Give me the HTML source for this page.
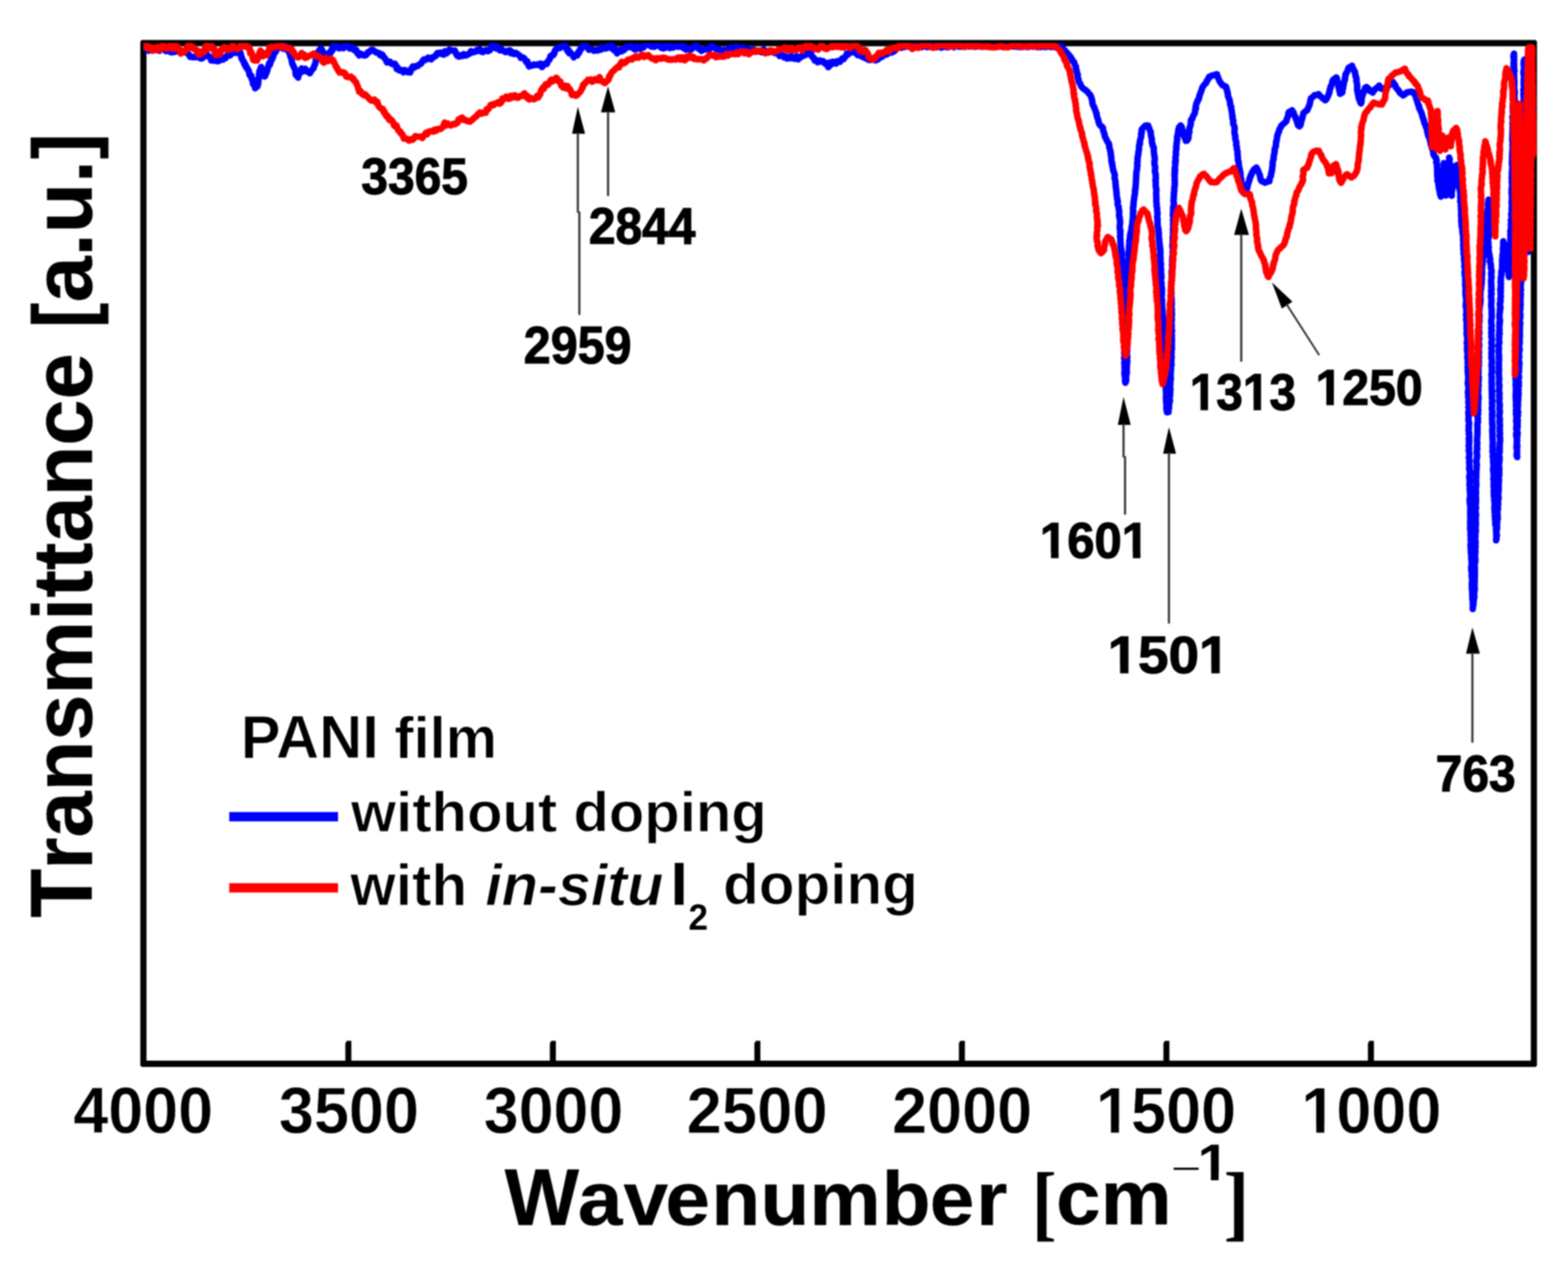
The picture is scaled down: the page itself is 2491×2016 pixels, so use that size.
<!DOCTYPE html>
<html lang="en">
<head>
<meta charset="utf-8">
<title>FTIR transmittance spectra of PANI film</title>
<style>
html,body{margin:0;padding:0;background:#fff;}
body{width:2491px;height:2016px;overflow:hidden;}
svg{display:block;filter:blur(1px);}
</style>
</head>
<body>
<svg width="2491" height="2016" viewBox="0 0 2491 2016" role="img" aria-label="FTIR transmittance spectra of PANI film without doping and with in-situ iodine doping">
<rect width="2491" height="2016" fill="#fff"/>
<defs><clipPath id="plotclip"><rect x="227.8" y="68.2" width="2214" height="1621.8"/></clipPath></defs>
<g id="axes" fill="#000">
<path fill-rule="evenodd" d="M225.1,63.6 H2439.5 L2441.7,65.8 V1692.7 L2439.5,1694.9 H225.1 L222.9,1692.7 V65.8 Z M232.7,73.4 V1685.1 H2431.9 V73.4 Z"/>
<polygon points="548.65,1657.5 551.00,1653.4 558.15,1653.4 558.15,1688 548.65,1688"/>
<polygon points="873.55,1657.5 875.90,1653.4 883.05,1653.4 883.05,1688 873.55,1688"/>
<polygon points="1198.45,1657.5 1200.80,1653.4 1207.95,1653.4 1207.95,1688 1198.45,1688"/>
<polygon points="1523.35,1657.5 1525.70,1653.4 1532.85,1653.4 1532.85,1688 1523.35,1688"/>
<polygon points="1848.25,1657.5 1850.60,1653.4 1857.75,1653.4 1857.75,1688 1848.25,1688"/>
<polygon points="2173.15,1657.5 2175.50,1653.4 2182.65,1653.4 2182.65,1688 2173.15,1688"/>
</g>
<g id="curves" clip-path="url(#plotclip)">
<polyline points="231.2,77.7 233.7,78.4 236.2,80.5 238.7,78.2 241.1,78.5 243.6,79.1 246.1,77.0 248.6,78.9 251.1,79.7 253.6,80.7 256.1,77.0 258.6,78.3 261.0,77.2 263.5,81.2 266.0,80.7 268.5,77.3 271.0,82.9 273.5,83.2 275.9,82.0 278.4,82.3 280.9,80.3 283.4,80.0 285.9,83.2 288.4,81.2 290.9,82.3 293.3,83.1 295.8,82.4 298.3,85.2 300.2,86.6 302.0,90.4 303.9,90.2 306.3,90.9 308.7,90.1 311.1,91.0 313.5,89.9 315.9,88.9 318.3,92.8 320.7,92.8 323.2,91.0 325.7,89.4 328.2,86.3 330.1,87.7 331.9,89.9 333.8,90.6 335.6,96.2 338.1,94.3 340.6,96.7 343.1,94.2 345.5,97.3 348.0,96.7 350.5,92.1 352.4,92.1 354.2,94.7 356.1,91.1 358.0,92.7 360.5,88.6 363.0,85.9 365.5,88.0 366.7,86.9 368.0,82.3 369.2,79.5 372.0,80.8 374.8,84.2 377.6,83.1 380.4,79.6 381.1,82.6 381.9,84.0 382.6,86.0 383.4,92.3 384.1,91.2 385.2,95.3 386.2,96.9 387.3,97.6 388.4,102.7 389.5,101.6 390.5,106.4 391.6,105.7 392.8,109.6 394.1,110.6 395.3,113.1 396.5,119.1 397.8,120.4 399.0,119.8 399.8,125.6 400.5,124.5 401.3,128.1 402.0,133.2 402.8,134.7 404.0,133.6 405.3,140.3 406.5,138.0 407.7,136.3 409.0,137.2 410.2,133.0 410.4,130.2 410.7,126.5 410.9,124.0 411.1,124.1 411.4,119.7 411.6,119.1 411.9,115.3 412.1,113.1 413.0,113.4 414.0,108.3 414.9,106.3 415.6,110.3 416.2,109.0 416.9,111.2 417.5,117.7 418.2,119.6 418.8,118.9 419.5,121.0 420.4,121.7 421.4,120.4 422.4,114.1 423.3,115.8 424.2,113.3 425.2,109.6 426.1,106.4 427.0,102.5 428.0,100.0 428.9,102.8 430.0,96.5 431.0,96.6 432.1,91.8 433.1,92.5 434.2,88.9 435.2,84.9 436.3,81.8 437.8,82.9 439.3,77.5 440.8,76.5 442.3,76.4 443.8,76.1 446.0,75.2 448.3,73.8 450.5,77.6 452.8,74.1 455.0,73.5 456.1,77.1 457.2,80.3 458.4,80.4 459.5,83.3 460.6,86.6 461.4,90.1 462.2,90.1 463.0,93.8 463.8,99.0 464.6,101.9 465.4,102.5 466.2,105.1 466.9,107.2 467.7,107.4 468.4,109.4 469.2,111.9 469.9,119.3 471.8,120.1 473.6,123.4 474.7,116.1 475.8,117.2 477.0,114.1 478.1,113.2 479.2,108.7 482.0,113.3 484.8,109.2 487.3,112.7 489.8,114.6 492.3,116.5 493.8,113.5 495.3,111.3 496.7,109.8 498.2,108.4 499.7,103.3 500.2,102.7 500.8,101.5 501.3,98.9 501.8,94.1 502.3,93.7 502.9,91.7 503.4,87.7 504.6,85.6 505.8,82.0 506.9,80.8 508.1,78.6 510.3,77.0 512.4,81.2 514.6,84.4 515.9,85.6 517.1,86.7 518.4,86.7 520.2,87.2 522.1,84.9 523.9,82.8 525.8,83.5 527.2,77.6 528.6,79.3 530.0,73.5 531.4,74.7 533.7,74.6 536.0,73.7 538.4,76.7 540.7,76.1 543.2,75.8 545.7,76.5 548.2,72.0 550.7,71.6 553.2,74.1 555.7,77.1 558.0,75.0 560.4,75.3 562.7,79.7 565.0,78.9 566.4,80.0 567.8,84.8 569.2,84.0 570.6,88.2 572.8,85.3 575.1,86.2 577.3,87.8 579.6,88.0 581.8,87.5 584.3,83.2 586.7,82.8 589.2,79.8 592.0,79.1 594.8,81.2 597.6,83.3 600.4,83.6 602.3,84.7 604.1,87.9 606.0,86.1 607.9,87.4 609.3,90.8 610.7,91.7 612.1,93.2 613.5,96.2 614.9,99.2 617.2,98.7 619.5,98.0 621.9,101.0 624.2,102.0 625.7,101.2 627.2,101.2 628.7,103.1 630.2,109.7 631.7,107.2 634.0,111.8 636.4,111.9 638.7,111.4 641.0,115.0 643.3,111.3 645.6,112.4 648.0,114.6 650.3,112.7 651.7,115.2 653.1,110.1 654.5,107.7 655.9,105.4 658.4,107.3 660.9,105.0 663.4,104.8 665.3,103.1 667.1,102.0 669.0,101.0 670.9,97.6 673.4,94.4 675.8,95.3 678.3,93.1 680.5,91.6 682.8,93.5 685.0,94.3 687.3,90.8 689.5,90.8 690.9,89.1 692.3,88.9 693.7,85.8 695.1,84.2 697.4,85.2 699.8,83.5 702.1,85.9 704.4,86.7 706.8,81.3 709.1,85.0 711.4,82.9 713.8,78.8 716.3,79.9 718.7,80.2 721.2,81.1 722.6,80.3 724.0,83.5 725.4,87.2 726.8,88.9 729.3,90.0 731.8,87.7 734.3,89.0 736.6,85.9 739.0,88.0 741.3,87.8 743.6,86.2 745.9,85.2 748.2,81.1 750.6,83.4 752.9,82.4 755.2,82.2 757.5,79.5 759.9,80.7 762.2,77.9 764.7,82.0 767.2,82.7 769.7,80.9 772.5,79.4 775.3,81.4 776.8,80.3 778.3,79.8 779.8,76.6 781.3,72.4 782.8,75.0 785.3,71.9 787.7,76.8 790.2,74.3 792.1,76.4 794.0,80.0 795.8,77.7 797.7,78.9 800.5,81.3 803.3,82.9 805.2,82.3 807.0,80.3 808.9,80.4 810.3,80.1 811.7,84.6 813.1,82.1 814.5,84.9 817.0,85.9 819.4,84.0 821.9,85.7 823.8,87.1 825.6,88.4 827.5,92.0 829.4,91.6 831.2,91.4 833.1,93.0 835.0,96.7 836.4,99.0 837.8,97.4 839.2,102.9 840.6,105.6 843.1,103.6 845.5,104.2 848.0,102.5 850.8,103.3 853.6,102.2 856.1,103.4 858.6,100.9 861.1,106.6 863.6,102.9 866.0,101.0 868.5,101.9 870.0,98.4 871.5,95.8 873.0,94.7 874.5,89.1 876.0,89.4 877.5,86.7 879.0,87.5 880.4,85.3 881.9,79.7 883.4,78.8 885.3,75.5 887.1,75.7 889.0,76.4 890.9,75.5 893.4,73.5 895.9,72.9 898.4,72.5 899.9,77.1 901.4,81.0 902.8,78.9 904.3,84.7 905.8,82.8 907.7,85.3 909.5,87.1 911.4,91.1 913.3,88.2 915.1,87.5 917.0,87.9 918.5,82.9 920.0,84.1 921.5,78.5 923.0,78.4 924.5,74.8 926.4,73.2 928.2,73.8 930.1,72.1 932.0,73.9 933.8,76.3 935.7,79.1 938.0,77.3 940.4,77.8 942.7,80.3 945.0,80.5 947.3,79.3 949.6,80.3 952.0,78.3 954.3,78.9 956.5,75.0 958.8,77.2 961.0,77.0 963.3,76.9 965.5,73.2 968.0,73.2 970.5,76.5 973.0,72.7 974.5,78.8 976.0,80.1 977.4,77.9 978.9,80.3 980.4,84.8 982.8,81.0 985.1,78.9 987.5,81.6 989.7,78.3 991.9,79.1 994.2,74.4 996.4,74.8 998.6,75.2 1001.0,72.1 1003.3,73.5 1005.6,76.6 1008.0,78.3 1010.3,78.6 1012.6,74.0 1015.0,76.1 1017.3,77.5 1019.6,75.4 1021.9,75.7 1024.3,72.3 1026.6,71.0 1029.3,71.3 1031.9,71.1 1034.6,74.0 1037.3,73.9 1040.0,74.3 1042.6,72.2 1045.3,72.5 1048.0,72.6 1050.6,76.0 1053.3,76.8 1055.9,76.5 1058.6,72.0 1061.2,71.8 1063.9,76.6 1066.6,74.0 1069.2,75.6 1071.9,73.3 1074.6,74.0 1077.3,74.3 1079.9,73.8 1082.6,74.7 1084.9,72.5 1087.2,77.2 1089.6,78.9 1091.9,76.3 1094.4,77.8 1096.8,79.3 1099.3,77.5 1101.2,75.2 1103.0,73.8 1104.9,74.5 1106.8,70.7 1108.7,76.8 1110.5,77.7 1112.4,78.6 1114.3,80.8 1116.8,79.3 1119.2,77.8 1121.7,78.5 1123.9,77.1 1126.2,78.7 1128.4,76.8 1130.7,72.9 1132.9,75.5 1135.2,75.8 1137.6,77.2 1139.9,78.5 1142.2,77.5 1144.7,80.1 1147.2,80.1 1149.7,79.1 1152.2,79.4 1154.7,79.4 1157.2,77.5 1159.5,79.0 1161.8,75.2 1164.2,76.4 1166.5,76.8 1169.3,74.1 1172.1,75.8 1174.9,77.1 1177.7,76.8 1180.2,75.3 1182.6,79.8 1185.1,78.9 1187.6,77.4 1190.2,79.4 1192.7,79.1 1195.3,79.2 1197.8,78.7 1200.4,82.2 1202.9,80.6 1205.5,81.1 1208.0,81.7 1210.6,83.1 1213.1,78.2 1215.6,82.0 1218.2,83.3 1220.7,81.3 1223.3,82.6 1225.8,81.3 1228.4,82.7 1230.9,84.3 1233.5,83.4 1236.0,84.8 1238.6,88.9 1241.1,87.6 1243.4,88.0 1245.8,91.2 1248.1,89.8 1250.4,92.8 1252.7,91.3 1255.1,92.7 1257.4,89.2 1259.7,92.5 1262.5,93.4 1265.3,89.5 1268.1,94.3 1270.9,90.2 1272.8,90.7 1274.7,87.9 1276.5,88.5 1278.4,87.9 1280.0,83.3 1281.7,86.5 1283.3,82.0 1284.9,80.9 1286.2,83.4 1287.5,84.2 1288.8,85.8 1290.1,89.8 1291.4,91.3 1292.9,91.7 1294.4,95.9 1295.9,95.5 1297.4,95.8 1298.9,98.9 1300.8,96.6 1302.6,96.0 1304.5,98.0 1307.3,97.0 1310.1,100.6 1312.0,101.7 1313.8,99.8 1315.7,106.7 1317.5,105.1 1319.4,99.0 1321.2,102.1 1323.1,98.1 1325.6,98.4 1328.1,101.1 1330.6,97.1 1332.4,97.2 1334.3,98.1 1336.2,95.5 1338.0,92.7 1339.9,94.1 1341.8,91.8 1343.6,89.3 1345.5,85.2 1347.4,86.6 1349.2,84.3 1351.1,81.5 1353.0,79.3 1355.5,83.1 1357.9,82.1 1360.4,85.1 1362.8,87.7 1365.1,87.9 1367.5,88.2 1369.8,90.4 1372.2,90.0 1374.5,92.4 1376.8,91.6 1379.1,94.8 1381.4,95.3 1383.8,94.9 1386.1,93.0 1388.4,92.1 1390.8,95.9 1393.1,95.0 1395.4,93.9 1397.3,91.3 1399.2,89.6 1401.0,90.4 1402.9,88.5 1405.2,87.5 1407.6,86.6 1409.9,86.0 1412.2,82.1 1414.5,81.2 1416.8,83.5 1419.2,82.0 1421.5,80.7 1423.7,76.1 1425.9,75.5 1428.0,75.7 1430.2,75.7 1432.4,75.9 1434.6,72.9 1437.1,74.6 1439.6,72.3 1442.0,72.2 1444.5,74.5 1447.0,73.7 1449.5,73.8 1452.1,72.8 1454.6,73.3 1457.2,72.3 1459.7,72.9 1462.3,74.5 1464.8,74.8 1467.4,72.0 1469.9,72.2 1472.5,74.8 1475.0,74.2 1477.6,74.7 1480.1,72.8 1482.7,73.6 1485.2,73.1 1487.8,75.0 1490.3,73.5 1492.9,74.5 1495.4,75.7 1498.0,73.5 1500.5,74.2 1503.0,74.8 1505.5,75.3 1508.0,73.8 1510.4,73.6 1512.9,72.8 1515.4,75.0 1517.9,72.7 1520.4,72.7 1522.9,74.1 1525.4,73.8 1527.9,74.3 1530.4,73.3 1532.8,74.5 1535.3,72.7 1537.8,73.0 1540.3,74.1 1542.8,72.7 1545.4,73.3 1547.9,74.3 1550.5,74.2 1553.0,73.3 1555.6,73.1 1558.2,73.6 1560.7,74.3 1563.3,73.6 1565.9,73.2 1568.4,74.4 1571.0,74.1 1573.5,74.8 1576.1,74.8 1578.7,74.8 1581.2,74.0 1583.8,74.6 1586.3,73.8 1588.8,73.8 1591.2,73.9 1593.7,74.8 1596.2,74.7 1598.7,73.7 1601.2,73.9 1603.7,73.9 1606.2,73.9 1608.6,73.9 1611.1,73.9 1613.6,73.6 1616.1,74.2 1618.6,74.6 1621.0,74.2 1623.5,74.6 1626.0,74.2 1628.5,73.6 1631.0,74.5 1633.5,74.7 1636.0,73.7 1638.4,73.3 1640.9,74.1 1643.4,74.2 1646.0,74.2 1648.6,74.9 1651.3,74.4 1653.9,74.7 1656.5,73.5 1659.1,74.4 1661.7,74.8 1664.4,73.7 1667.0,73.7 1669.6,74.8 1672.5,74.2 1674.7,74.5 1677.3,75.4 1679.3,74.2 1682.5,73.8 1685.1,73.0 1686.5,75.5 1688.7,76.8 1690.4,78.9 1692.5,81.0 1694.0,82.8 1695.8,84.7 1697.4,86.5 1699.0,88.5 1700.2,89.9 1701.8,92.1 1702.8,93.9 1703.9,96.6 1706.3,98.5 1706.7,100.6 1707.8,103.4 1709.2,105.7 1709.2,108.4 1710.3,111.8 1710.5,113.6 1711.3,116.7 1712.3,118.5 1711.8,121.2 1712.4,123.7 1713.5,126.6 1713.4,128.6 1714.6,130.9 1716.3,133.4 1717.2,136.4 1718.3,138.0 1720.6,140.3 1721.8,141.4 1724.4,142.8 1725.4,143.8 1728.1,146.2 1728.9,147.7 1730.4,149.2 1732.4,151.5 1732.9,152.6 1733.8,155.5 1734.8,158.5 1735.2,160.3 1735.3,163.0 1736.1,166.1 1737.0,168.4 1738.5,170.4 1738.9,172.7 1740.1,175.1 1741.1,178.5 1742.1,180.1 1742.3,183.4 1742.9,185.7 1744.0,188.8 1744.9,191.3 1745.3,193.8 1746.2,196.6 1747.2,198.4 1748.8,199.9 1750.5,201.3 1752.3,203.4 1752.3,205.6 1752.9,208.5 1754.0,210.9 1754.6,213.1 1754.9,216.0 1756.2,218.9 1757.2,220.2 1758.3,223.4 1759.5,225.6 1761.1,227.2 1762.3,230.6 1761.9,232.7 1762.5,234.9 1763.4,237.2 1763.6,239.7 1764.6,241.9 1764.5,244.9 1765.0,247.5 1765.5,249.7 1765.5,252.2 1765.5,253.8 1765.8,256.8 1766.8,258.6 1766.7,261.8 1767.5,263.4 1767.7,266.0 1768.2,268.7 1768.8,271.8 1769.8,273.8 1770.7,276.6 1771.1,278.5 1770.8,280.9 1770.6,283.2 1771.7,286.2 1772.0,288.2 1772.1,289.7 1772.0,292.5 1772.6,294.5 1772.5,297.7 1773.3,300.7 1773.3,302.6 1773.8,306.1 1773.8,308.1 1774.0,310.5 1774.6,314.2 1774.7,316.2 1775.4,317.9 1775.9,320.8 1775.3,322.4 1775.7,325.4 1776.6,327.4 1777.3,329.8 1777.1,331.8 1777.9,334.5 1778.1,337.7 1777.9,340.3 1777.8,343.4 1779.0,346.0 1778.8,347.8 1779.3,350.6 1779.5,353.1 1779.2,356.3 1778.8,358.5 1778.8,360.4 1779.0,364.1 1780.0,366.2 1779.3,368.7 1779.9,370.9 1779.8,373.9 1779.2,375.7 1779.9,378.2 1780.0,381.0 1779.9,383.3 1780.2,385.7 1780.4,388.1 1780.3,390.5 1780.6,393.2 1781.3,394.9 1781.3,397.4 1781.8,400.2 1782.0,402.4 1782.4,405.3 1782.3,407.4 1782.0,410.1 1782.6,412.6 1782.3,415.0 1782.9,417.4 1782.0,420.5 1783.2,423.0 1782.9,425.6 1782.7,427.9 1782.6,429.9 1783.1,432.9 1783.2,434.9 1783.7,438.0 1783.3,440.3 1783.6,442.7 1783.4,446.1 1784.6,448.3 1784.6,450.6 1784.7,452.9 1784.7,455.8 1785.0,457.8 1785.0,460.4 1784.8,463.9 1784.2,465.6 1784.7,468.3 1784.5,471.5 1785.6,473.4 1785.1,476.2 1784.8,478.1 1786.0,481.0 1785.5,484.3 1786.2,486.3 1785.3,488.6 1786.2,491.9 1785.4,494.3 1785.6,496.4 1785.4,499.5 1786.5,501.2 1786.1,503.7 1786.4,506.1 1785.5,509.5 1785.8,512.2 1786.5,514.4 1785.6,516.9 1786.6,519.1 1785.6,521.3 1785.8,524.4 1785.7,526.2 1785.8,529.3 1786.5,531.4 1786.3,534.5 1786.3,536.2 1785.9,539.6 1786.4,541.3 1786.4,543.5 1786.8,546.4 1786.2,549.0 1785.7,551.6 1786.0,553.7 1786.6,556.0 1786.0,559.2 1786.0,561.2 1786.4,563.5 1786.8,567.0 1785.8,568.8 1786.6,571.2 1786.9,573.9 1786.0,576.4 1786.5,578.7 1786.6,581.7 1786.4,583.8 1786.9,586.6 1786.6,589.5 1786.3,591.9 1786.4,594.3 1786.6,596.7 1787.3,599.7 1787.4,601.6 1787.2,604.2 1787.4,607.1 1787.8,608.1 1788.8,605.7 1789.2,602.8 1788.6,600.2 1789.2,598.2 1789.3,595.6 1789.9,593.0 1790.2,591.1 1790.0,589.0 1789.8,585.8 1790.1,583.3 1790.1,581.5 1790.4,578.5 1790.5,575.8 1790.8,573.5 1790.1,571.0 1790.7,569.3 1790.8,565.9 1790.4,563.7 1790.2,562.0 1790.0,558.9 1790.9,557.0 1790.2,553.9 1790.9,550.9 1790.4,549.5 1790.3,546.4 1790.5,543.9 1790.2,541.0 1791.3,539.4 1791.0,536.2 1790.4,534.1 1790.4,531.5 1791.2,528.9 1790.5,527.2 1790.8,523.6 1790.6,521.8 1790.2,519.0 1790.9,517.1 1790.8,514.6 1790.7,511.6 1791.1,509.1 1791.1,506.4 1790.6,503.8 1790.8,501.3 1790.4,498.9 1790.8,496.5 1790.8,494.9 1791.1,492.2 1790.5,489.2 1790.4,487.0 1790.7,484.1 1790.3,481.5 1790.7,479.2 1791.5,477.1 1790.7,474.2 1790.6,472.4 1790.9,469.7 1791.4,467.4 1790.6,464.2 1791.1,461.5 1791.7,459.3 1791.6,457.0 1790.8,454.4 1791.1,451.5 1791.1,449.6 1791.0,446.8 1791.5,444.6 1791.2,442.3 1791.4,439.8 1791.9,436.7 1791.4,434.3 1792.2,431.9 1791.9,429.9 1791.8,426.7 1792.0,424.1 1791.7,421.3 1792.6,419.4 1792.9,417.4 1792.4,414.4 1793.2,411.4 1793.0,409.3 1793.4,407.0 1792.8,404.2 1792.8,401.4 1793.3,398.4 1793.5,396.2 1793.8,393.6 1793.5,391.2 1794.1,388.4 1794.5,385.9 1794.0,383.5 1794.5,380.7 1794.9,378.8 1795.3,376.3 1795.2,373.4 1796.0,370.5 1796.5,368.0 1797.1,366.1 1797.5,363.2 1797.7,360.4 1798.3,358.9 1798.8,355.6 1799.0,352.9 1799.0,350.9 1799.7,348.1 1799.5,346.2 1799.9,343.3 1799.9,340.5 1799.8,337.8 1800.5,335.9 1800.1,333.4 1799.8,330.0 1800.7,327.6 1800.7,325.9 1800.7,322.4 1801.1,320.4 1801.4,317.1 1802.0,315.0 1801.9,312.6 1802.6,310.1 1802.8,307.6 1803.3,305.5 1803.0,302.2 1803.9,299.7 1803.9,297.7 1804.1,295.5 1804.5,292.1 1804.5,290.0 1804.7,287.3 1804.6,285.3 1805.1,282.2 1805.0,279.8 1805.1,277.6 1805.3,274.6 1805.5,272.1 1806.4,269.5 1806.3,267.7 1806.5,264.4 1807.2,262.6 1806.4,259.3 1807.1,257.3 1807.1,254.6 1807.1,252.0 1807.4,248.9 1808.1,246.9 1808.5,244.2 1808.4,242.1 1809.0,239.9 1809.6,236.7 1809.4,235.0 1809.6,232.1 1809.7,230.2 1811.1,228.4 1810.6,225.5 1811.3,223.0 1811.7,220.9 1812.9,217.3 1813.0,215.0 1812.6,212.7 1813.8,211.0 1813.5,207.8 1813.8,205.6 1815.9,203.5 1817.2,202.1 1819.4,199.6 1821.2,199.5 1824.0,199.5 1824.5,201.2 1825.6,203.4 1826.0,204.7 1826.9,207.7 1828.0,209.2 1828.2,211.5 1828.4,214.2 1828.8,216.8 1829.3,218.8 1829.9,221.5 1829.9,223.6 1830.1,227.1 1830.9,228.6 1831.2,231.5 1832.7,233.7 1833.0,236.5 1832.9,239.4 1833.1,241.1 1833.4,244.4 1833.7,246.6 1834.3,249.9 1834.5,252.0 1834.5,254.9 1833.9,256.7 1834.1,259.4 1834.2,262.3 1835.2,264.9 1835.1,267.1 1834.8,270.8 1834.7,272.9 1835.8,275.8 1835.9,277.9 1836.1,281.0 1836.2,283.8 1835.5,286.3 1836.0,288.6 1836.0,291.4 1835.9,293.6 1836.2,296.0 1836.5,298.9 1837.1,301.0 1837.0,303.4 1836.7,306.5 1836.8,308.0 1836.9,311.2 1836.8,313.6 1837.3,316.0 1836.9,317.7 1837.0,320.5 1837.4,322.5 1837.5,325.4 1837.4,328.0 1838.2,330.0 1838.3,332.7 1838.3,335.0 1838.8,338.0 1838.9,340.2 1838.4,343.4 1838.3,345.4 1839.1,348.8 1838.8,350.4 1839.0,353.9 1838.9,356.0 1839.4,358.6 1839.4,361.0 1840.4,363.8 1840.4,365.8 1840.5,367.8 1841.1,371.0 1840.8,373.4 1841.0,375.5 1841.0,378.3 1841.7,380.6 1841.3,383.2 1842.0,385.6 1842.4,388.5 1842.0,390.4 1843.1,393.3 1842.5,395.7 1843.4,397.8 1843.4,400.0 1843.6,402.9 1842.9,405.8 1843.5,408.4 1843.8,410.7 1843.6,413.5 1843.2,415.8 1844.1,417.5 1844.3,420.3 1844.1,423.3 1843.8,425.0 1844.5,427.3 1844.4,430.7 1844.4,432.6 1844.9,435.9 1844.9,438.0 1845.2,440.9 1844.4,442.9 1844.4,445.0 1844.8,448.6 1845.4,450.2 1844.7,453.1 1845.6,455.8 1845.8,457.7 1846.0,460.3 1845.7,463.6 1845.9,465.3 1845.9,468.0 1845.2,470.4 1845.7,473.2 1845.7,475.7 1846.3,477.7 1845.8,480.8 1846.3,482.6 1845.9,486.1 1846.6,487.8 1846.2,491.1 1847.0,493.3 1846.7,495.4 1846.9,497.7 1847.3,500.6 1847.7,503.1 1847.4,505.8 1848.1,508.1 1847.9,510.5 1847.9,513.2 1848.4,515.7 1848.5,518.7 1848.2,521.6 1848.2,523.9 1848.6,526.1 1848.1,528.6 1848.5,531.2 1849.5,533.5 1849.3,536.5 1848.9,538.8 1848.9,541.9 1849.2,543.9 1849.4,546.9 1850.1,549.1 1849.9,551.0 1850.4,553.5 1849.8,556.3 1850.4,559.1 1850.0,561.9 1850.8,563.3 1850.6,566.4 1850.3,568.8 1850.4,571.6 1850.8,574.4 1851.4,576.9 1850.8,579.2 1851.2,581.6 1851.7,583.3 1851.1,586.2 1851.4,588.4 1851.9,590.9 1851.2,593.3 1851.3,596.5 1851.0,598.3 1851.8,601.4 1852.0,603.4 1852.1,606.5 1852.2,608.2 1851.9,610.6 1852.4,614.2 1852.5,615.6 1851.9,618.7 1852.2,620.6 1852.7,623.4 1852.4,625.8 1852.6,628.4 1852.2,631.4 1852.5,634.3 1852.6,636.5 1852.5,638.8 1853.1,641.8 1853.2,644.7 1852.9,647.3 1853.1,650.0 1853.6,651.9 1853.8,655.0 1856.5,654.5 1855.6,651.5 1856.9,649.6 1857.1,646.2 1857.3,643.4 1857.1,641.1 1858.4,638.8 1858.6,635.5 1858.2,632.9 1858.1,630.4 1859.0,628.0 1858.6,625.8 1859.2,623.6 1859.0,620.5 1859.5,617.8 1858.9,615.6 1858.9,612.6 1859.3,610.1 1859.3,607.5 1859.5,604.4 1860.1,601.9 1859.8,600.0 1859.8,597.1 1859.5,594.8 1859.9,592.4 1859.9,590.3 1860.3,586.9 1860.3,585.6 1859.9,582.6 1861.2,579.9 1860.8,577.4 1860.6,575.2 1861.0,572.3 1861.0,570.1 1861.4,567.1 1860.7,564.8 1860.9,563.0 1861.2,560.6 1861.1,557.4 1861.5,554.7 1861.9,553.1 1861.1,550.0 1861.7,548.0 1861.5,544.7 1861.7,542.2 1861.5,540.3 1861.9,537.9 1860.9,535.8 1861.8,532.9 1860.9,530.6 1861.4,528.0 1862.1,525.8 1860.9,523.2 1861.4,520.6 1861.3,517.8 1861.3,514.9 1861.2,513.2 1860.8,509.9 1861.7,508.1 1861.4,505.0 1860.8,502.7 1861.8,500.5 1861.8,497.6 1861.1,495.5 1861.6,492.5 1861.6,490.5 1860.6,488.0 1861.0,485.8 1861.6,483.2 1861.3,480.6 1861.4,477.8 1861.3,475.4 1861.1,473.0 1860.8,470.5 1860.8,468.6 1861.0,465.9 1861.0,464.0 1860.7,461.3 1860.9,459.3 1860.6,456.5 1860.5,453.6 1861.1,451.5 1860.6,448.3 1861.4,446.1 1861.4,443.6 1861.4,441.2 1862.0,439.0 1861.5,436.0 1861.4,433.7 1861.3,430.6 1862.3,427.7 1862.3,425.8 1862.2,422.9 1861.9,421.1 1862.7,418.4 1862.1,415.8 1862.3,412.5 1862.8,410.4 1862.4,408.2 1863.0,405.9 1863.4,403.2 1862.8,401.1 1863.3,397.9 1863.5,395.9 1862.8,392.9 1862.6,390.8 1862.9,388.1 1863.0,385.5 1863.3,383.2 1863.1,380.8 1863.4,379.0 1863.0,376.6 1863.9,373.9 1863.5,371.6 1863.5,369.1 1864.0,366.8 1863.3,363.5 1864.1,361.4 1863.9,358.8 1863.6,356.6 1863.9,354.8 1863.7,351.9 1863.5,349.1 1864.3,346.5 1864.3,344.8 1863.3,342.6 1863.3,339.8 1863.5,337.7 1863.8,335.0 1863.6,332.2 1863.7,328.9 1864.4,327.5 1864.7,324.8 1864.9,321.8 1864.2,319.2 1864.4,316.7 1864.8,314.1 1864.7,311.8 1865.1,308.9 1864.8,306.4 1865.4,304.4 1865.6,300.8 1865.4,298.5 1865.9,296.6 1866.3,294.1 1866.3,291.4 1866.4,287.8 1866.0,285.9 1866.3,283.3 1866.3,281.1 1865.7,278.0 1866.8,274.9 1865.9,273.3 1867.0,269.7 1866.0,268.1 1866.8,265.1 1866.9,262.8 1867.3,259.3 1866.6,257.6 1867.9,255.1 1867.4,251.9 1867.5,248.9 1868.2,246.5 1868.1,244.3 1868.0,241.8 1868.3,238.7 1869.1,236.1 1868.4,233.7 1869.0,231.9 1869.0,228.7 1869.6,226.3 1869.7,223.8 1870.3,221.2 1869.8,218.9 1870.1,216.9 1871.0,214.5 1871.3,211.1 1872.0,208.8 1871.8,206.6 1873.2,204.0 1872.9,202.2 1875.1,200.2 1875.5,199.2 1877.0,201.0 1877.8,203.4 1878.0,206.0 1879.3,208.2 1880.2,210.0 1880.6,212.8 1880.6,215.6 1881.3,217.0 1882.7,220.2 1883.4,221.7 1883.9,223.7 1885.5,223.7 1886.7,221.8 1887.7,220.3 1888.2,218.0 1888.2,214.9 1888.2,212.4 1889.6,209.8 1889.1,207.7 1889.4,205.3 1890.0,202.5 1890.9,200.5 1891.4,198.3 1891.8,196.0 1891.7,192.7 1892.2,190.3 1894.2,188.7 1895.0,185.4 1895.9,183.6 1897.1,181.6 1898.4,178.8 1898.5,176.8 1898.9,173.6 1900.0,172.2 1899.4,169.5 1900.4,166.3 1900.7,164.0 1902.3,161.8 1902.4,159.6 1904.2,157.7 1905.0,155.4 1905.3,152.6 1906.2,150.2 1907.0,148.4 1907.9,145.7 1909.0,143.0 1909.4,141.2 1910.5,138.2 1911.8,136.4 1913.0,135.1 1914.3,133.3 1916.4,131.4 1917.0,128.6 1919.4,125.9 1919.8,124.1 1921.3,121.6 1923.4,121.4 1925.7,119.8 1928.3,119.5 1930.5,118.7 1933.3,117.8 1933.6,119.4 1934.6,122.0 1935.6,124.7 1936.4,126.3 1937.4,129.0 1939.1,131.4 1940.3,132.7 1941.6,135.0 1943.6,136.2 1946.2,136.8 1948.2,138.3 1948.2,140.8 1949.5,143.3 1949.5,145.5 1950.6,148.2 1950.6,150.4 1951.1,153.6 1952.4,156.3 1953.2,158.4 1953.7,161.0 1954.3,163.6 1954.2,166.1 1955.0,167.9 1956.0,170.0 1955.9,172.7 1956.6,175.3 1957.0,178.0 1957.1,179.3 1957.4,181.7 1958.1,184.9 1957.7,186.4 1958.6,189.6 1959.4,191.9 1958.9,194.5 1959.2,197.2 1960.6,199.6 1961.1,201.8 1961.5,204.2 1961.2,206.2 1961.2,208.1 1961.2,211.4 1961.6,213.6 1962.5,216.0 1962.4,217.8 1962.3,220.0 1963.1,222.9 1963.8,224.8 1964.2,227.9 1963.7,230.2 1964.5,232.6 1965.0,234.1 1964.8,236.7 1965.4,238.4 1966.1,241.4 1965.9,244.1 1965.9,245.8 1966.6,248.3 1966.6,250.5 1966.5,253.2 1967.3,256.3 1967.8,258.0 1967.9,260.2 1968.3,263.4 1968.2,265.1 1969.3,267.8 1969.5,270.0 1970.3,272.6 1969.8,274.5 1971.0,276.9 1970.4,279.5 1970.6,281.1 1971.6,283.5 1972.1,286.4 1972.0,288.8 1972.7,291.0 1972.8,293.0 1973.2,295.6 1975.0,298.5 1974.7,300.0 1975.7,303.3 1976.7,305.1 1977.4,308.1 1978.7,305.6 1979.6,303.7 1980.5,300.7 1981.5,298.6 1981.7,296.8 1982.2,293.7 1983.2,291.6 1983.4,289.5 1984.9,286.4 1985.1,283.6 1986.5,281.2 1986.6,279.1 1988.2,277.3 1988.6,274.9 1990.1,272.6 1990.9,270.9 1992.4,269.0 1994.3,267.6 1996.0,266.2 1997.0,268.0 1998.4,270.2 1998.9,272.9 1999.8,274.4 2001.1,277.7 2001.7,279.6 2002.3,282.6 2002.6,285.2 2004.1,287.7 2005.7,288.4 2007.5,289.0 2009.5,290.3 2012.3,289.2 2014.5,287.9 2016.6,287.8 2016.9,285.2 2017.4,282.6 2018.9,279.9 2019.3,277.4 2019.4,275.9 2020.3,273.0 2020.5,271.0 2021.1,268.4 2021.2,265.3 2021.7,263.1 2021.9,261.0 2021.7,258.2 2022.3,255.6 2023.4,252.5 2023.3,250.2 2023.6,247.3 2024.2,245.7 2024.6,242.5 2025.2,240.1 2024.8,237.9 2025.6,235.3 2026.7,232.9 2027.0,230.1 2027.2,227.3 2027.2,225.6 2028.2,223.4 2028.4,220.3 2028.9,218.2 2029.0,215.6 2030.3,213.0 2030.5,211.4 2032.1,208.5 2032.2,206.1 2033.0,204.7 2034.7,201.8 2035.3,200.1 2037.3,198.2 2040.3,195.5 2042.1,194.0 2043.7,192.3 2044.2,189.5 2044.9,187.2 2046.1,185.1 2046.5,183.4 2046.7,180.2 2047.7,177.9 2050.8,176.6 2052.7,175.2 2054.3,178.0 2055.3,179.4 2056.0,182.3 2057.0,184.8 2058.5,186.5 2058.6,189.0 2059.8,191.3 2060.5,193.8 2061.5,196.9 2061.9,198.8 2064.3,200.6 2066.1,198.7 2066.7,195.8 2066.6,193.5 2068.0,191.4 2068.1,189.6 2069.2,186.8 2069.6,184.3 2070.3,182.0 2070.6,179.5 2072.6,178.0 2074.2,176.6 2076.9,175.0 2077.3,173.2 2078.8,170.3 2079.6,168.3 2080.7,165.5 2081.2,163.2 2081.6,160.5 2082.1,158.2 2082.8,155.8 2084.8,154.6 2087.3,152.5 2088.2,151.1 2091.2,150.9 2094.9,149.5 2096.4,152.2 2099.2,154.0 2101.0,156.1 2103.0,157.2 2105.4,159.3 2107.4,157.3 2108.6,154.3 2109.4,153.4 2110.5,150.6 2111.0,148.8 2112.0,146.7 2112.2,144.5 2112.8,141.1 2113.9,139.4 2114.2,136.9 2115.8,134.4 2116.2,132.2 2116.7,129.4 2117.2,127.9 2119.4,125.6 2121.1,124.5 2123.0,123.0 2124.0,124.7 2124.1,127.9 2124.7,129.6 2125.9,132.3 2126.7,135.0 2126.2,137.5 2126.9,140.2 2128.0,142.7 2127.7,144.3 2129.1,146.9 2128.8,149.2 2130.3,148.3 2132.7,146.7 2132.4,144.8 2132.8,142.1 2133.8,139.9 2133.7,137.0 2134.6,134.8 2134.9,132.2 2135.3,129.4 2136.8,126.6 2136.4,124.9 2137.4,121.4 2137.3,119.1 2137.9,117.3 2139.6,115.2 2140.7,112.6 2141.4,110.4 2142.7,107.4 2145.3,106.3 2147.9,104.4 2148.6,108.0 2150.3,109.7 2151.3,112.5 2152.7,114.3 2152.7,116.9 2153.5,119.2 2153.4,121.0 2154.5,123.1 2155.1,125.3 2154.6,128.4 2155.6,131.0 2155.7,133.7 2156.0,135.4 2156.3,138.0 2155.8,140.3 2156.1,143.7 2156.9,145.1 2156.9,148.3 2158.0,150.8 2157.8,152.1 2158.5,154.6 2158.7,156.9 2160.4,159.4 2160.8,162.3 2162.1,164.4 2162.8,162.3 2163.1,159.8 2163.1,157.4 2163.8,154.6 2164.1,152.8 2165.3,149.7 2166.0,148.1 2166.2,145.2 2167.6,143.0 2168.3,141.4 2169.0,139.1 2170.9,138.2 2172.9,140.1 2174.6,141.5 2175.5,144.3 2178.2,144.9 2180.7,147.2 2182.0,144.7 2183.2,143.5 2185.1,141.0 2187.1,140.0 2189.0,138.1 2191.2,136.0 2192.0,138.0 2193.2,139.7 2194.6,141.1 2197.1,140.7 2199.7,140.5 2201.5,139.8 2204.0,137.6 2205.2,136.6 2206.9,135.3 2208.9,133.5 2211.0,131.3 2212.5,129.8 2214.4,132.6 2216.7,135.6 2217.1,138.2 2218.8,140.1 2220.9,142.8 2222.6,144.6 2223.4,146.8 2225.3,148.7 2227.5,150.1 2229.1,151.6 2232.1,149.5 2233.6,148.0 2234.9,146.8 2238.1,146.4 2241.6,145.6 2244.7,146.3 2246.3,147.7 2247.7,150.8 2248.8,152.6 2249.9,154.4 2249.9,156.9 2250.7,158.5 2251.4,160.8 2252.1,163.6 2252.9,166.1 2254.4,168.2 2254.2,171.0 2255.8,173.7 2256.4,175.7 2257.7,178.2 2258.6,180.1 2259.2,183.0 2259.7,184.6 2260.6,187.3 2261.5,190.0 2262.3,191.9 2262.7,194.9 2264.0,197.6 2264.9,199.0 2265.1,201.5 2266.3,203.6 2267.1,205.9 2267.2,208.2 2267.8,211.0 2268.2,212.6 2268.9,215.2 2269.7,216.8 2270.7,219.6 2271.8,221.6 2271.9,224.1 2273.3,226.5 2273.0,229.9 2274.2,231.5 2274.5,235.0 2275.9,236.6 2276.5,239.4 2277.0,242.4 2277.3,245.4 2278.4,247.1 2279.6,249.6 2281.2,250.3 2281.9,253.1 2282.4,254.7 2281.6,257.6 2282.3,259.7 2282.9,262.1 2282.7,264.4 2283.2,267.9 2283.0,269.7 2283.2,272.8 2283.4,274.3 2283.2,276.9 2283.4,280.3 2283.9,281.9 2283.7,284.5 2283.7,287.5 2284.9,289.5 2284.9,292.5 2285.8,294.7 2285.5,296.8 2286.0,300.1 2286.9,302.4 2287.2,304.6 2287.5,307.9 2288.5,309.3 2289.0,312.4 2289.2,310.1 2289.4,307.7 2290.1,304.5 2289.9,302.0 2289.9,299.4 2290.4,296.8 2290.3,294.9 2291.1,292.1 2291.4,289.2 2291.4,286.5 2291.2,283.8 2292.1,282.2 2291.7,279.0 2291.7,276.2 2292.6,274.6 2292.2,271.2 2293.2,268.7 2293.6,266.3 2293.4,263.5 2293.4,261.3 2293.6,259.1 2293.5,261.4 2294.6,263.5 2294.0,265.7 2294.1,269.0 2294.9,270.6 2294.8,273.7 2294.8,275.5 2295.1,278.4 2296.0,280.8 2296.1,283.9 2295.8,285.5 2296.3,287.9 2296.1,290.4 2295.7,293.2 2296.0,296.4 2296.7,298.7 2297.3,301.0 2297.1,303.2 2297.4,305.9 2296.8,308.2 2297.3,310.6 2297.9,308.3 2297.9,305.9 2298.4,302.5 2297.8,300.0 2298.1,298.5 2298.5,295.4 2298.9,293.0 2298.9,290.8 2299.1,288.3 2299.9,284.8 2299.8,282.4 2300.5,279.8 2299.9,278.2 2300.5,275.5 2300.5,272.8 2300.5,270.2 2300.8,268.0 2300.8,264.8 2301.2,262.7 2301.8,259.6 2302.5,258.1 2302.0,254.7 2302.8,253.2 2302.2,250.4 2303.1,253.1 2302.5,254.7 2302.6,257.3 2303.6,260.7 2303.3,262.3 2303.3,264.9 2303.8,268.0 2304.1,270.2 2303.8,272.7 2303.9,275.3 2304.4,278.1 2304.1,280.4 2304.0,282.3 2304.4,285.2 2304.2,287.4 2304.8,291.0 2305.4,292.4 2304.9,295.3 2305.1,297.6 2305.5,300.9 2305.4,302.6 2305.2,305.0 2306.2,307.8 2306.3,310.9 2305.7,307.7 2306.2,305.8 2306.9,302.7 2306.8,300.3 2307.0,298.2 2306.9,295.7 2307.9,292.9 2308.2,290.8 2307.5,288.3 2307.7,285.6 2307.8,282.4 2308.4,280.5 2308.9,277.2 2309.4,275.5 2309.1,271.9 2309.0,269.7 2309.4,267.9 2311.3,266.1 2312.5,263.6 2315.0,262.0 2314.5,264.3 2314.4,267.3 2315.2,269.9 2315.3,272.3 2314.8,275.4 2315.4,277.7 2315.5,280.1 2315.3,282.7 2315.7,285.1 2315.6,288.1 2315.7,291.2 2316.2,293.2 2317.2,294.9 2317.4,298.0 2318.7,299.8 2319.2,302.3 2319.5,304.8 2320.0,307.4 2320.0,309.6 2319.8,311.9 2320.1,314.4 2320.5,317.2 2319.7,319.6 2320.5,321.9 2321.0,323.7 2320.6,326.5 2321.2,328.7 2320.9,331.2 2321.3,334.1 2321.3,336.3 2321.6,338.4 2321.0,341.7 2321.9,344.3 2321.3,345.9 2321.9,349.1 2321.3,351.9 2321.9,353.2 2322.1,356.0 2321.9,359.1 2323.2,360.6 2322.8,363.2 2323.4,365.4 2323.2,368.2 2323.6,370.7 2324.0,373.7 2324.7,376.1 2324.8,377.7 2324.2,380.4 2324.8,383.1 2324.6,386.0 2324.7,387.3 2324.5,390.0 2325.4,393.2 2324.7,395.0 2325.1,398.1 2326.0,399.9 2325.1,403.2 2326.3,405.4 2325.8,407.9 2326.3,410.1 2325.8,412.6 2326.4,414.8 2326.5,417.1 2327.0,419.6 2326.3,423.0 2327.3,425.4 2327.2,427.8 2327.3,429.9 2326.6,432.6 2327.6,435.2 2326.8,436.7 2327.7,439.7 2328.0,442.8 2327.6,444.9 2328.0,447.4 2327.8,449.8 2327.5,452.5 2328.4,454.9 2328.3,456.6 2328.3,459.7 2328.5,461.6 2327.9,464.4 2328.3,466.7 2328.3,469.5 2328.9,472.6 2329.0,474.0 2329.3,477.2 2329.2,479.8 2328.8,481.9 2328.5,484.8 2328.6,487.4 2329.7,489.9 2329.4,492.5 2329.9,495.1 2330.0,497.2 2328.9,499.9 2329.7,502.7 2329.7,504.6 2329.1,507.7 2329.9,510.4 2329.9,512.7 2330.2,515.4 2329.9,517.8 2329.9,519.2 2329.9,522.2 2330.8,524.7 2330.0,527.6 2329.8,529.6 2330.3,531.9 2330.6,534.8 2330.9,537.2 2331.2,539.6 2330.7,542.1 2330.1,544.7 2331.3,547.2 2330.8,550.0 2330.7,552.5 2330.5,554.8 2330.8,557.9 2331.4,560.2 2331.3,562.9 2331.5,564.5 2330.9,567.8 2331.8,570.6 2331.7,572.1 2331.6,575.1 2331.7,577.1 2332.2,580.0 2331.4,583.1 2331.6,584.5 2332.0,587.2 2331.5,589.8 2332.0,592.3 2332.1,595.5 2332.6,598.0 2332.6,599.7 2332.5,602.0 2332.3,604.5 2331.8,608.0 2331.8,610.3 2332.4,611.9 2332.8,614.5 2332.9,617.9 2332.5,619.9 2332.0,622.7 2332.1,625.0 2333.2,627.7 2332.3,630.3 2333.1,632.3 2333.2,635.1 2332.8,637.5 2332.7,639.7 2333.5,642.3 2333.4,644.8 2332.7,646.9 2333.7,650.2 2333.7,652.5 2332.7,654.5 2332.7,657.5 2333.4,660.4 2333.0,662.0 2333.0,664.4 2332.8,667.3 2333.3,669.7 2333.9,672.1 2333.8,674.8 2333.0,676.7 2333.6,680.2 2333.0,682.5 2333.2,685.0 2334.0,687.5 2333.3,689.3 2334.2,692.7 2334.2,694.7 2333.2,697.0 2334.2,699.1 2333.5,701.6 2334.2,704.4 2333.3,706.9 2333.5,709.5 2334.0,712.3 2333.4,714.6 2333.4,717.0 2334.3,719.2 2334.4,721.7 2333.9,724.9 2333.5,727.1 2334.2,729.8 2334.7,732.3 2333.9,734.2 2334.2,736.8 2334.4,739.1 2334.6,742.0 2333.8,744.2 2334.9,747.6 2334.9,749.5 2335.1,751.8 2334.8,755.2 2334.2,756.6 2334.2,759.2 2335.0,762.4 2334.7,764.3 2334.9,766.9 2334.4,769.9 2335.0,772.7 2335.3,774.4 2334.7,776.9 2335.0,779.3 2335.4,782.6 2335.4,784.9 2335.6,787.8 2335.5,790.3 2334.8,792.3 2334.7,795.3 2335.2,798.1 2335.0,799.9 2335.8,803.1 2335.7,805.5 2336.0,807.2 2335.7,809.5 2335.8,813.0 2335.6,814.6 2335.8,817.0 2335.7,819.5 2335.7,822.9 2336.1,825.4 2335.8,827.4 2335.4,830.3 2336.1,832.4 2335.6,835.0 2335.6,837.0 2335.6,839.9 2335.8,842.9 2336.4,845.4 2336.4,847.1 2336.1,850.4 2336.5,852.7 2336.6,854.5 2336.2,857.4 2337.0,860.5 2336.7,862.2 2336.1,865.1 2336.6,868.0 2336.4,869.6 2336.3,871.9 2337.3,875.4 2336.5,876.9 2337.1,879.7 2337.2,883.0 2337.4,884.7 2337.3,887.2 2337.6,889.7 2337.8,892.7 2337.9,894.8 2338.0,897.6 2337.3,900.2 2337.4,902.0 2337.2,905.1 2337.5,907.0 2338.2,909.6 2338.2,912.2 2337.8,915.5 2338.5,917.9 2338.7,920.1 2338.7,922.6 2338.4,924.8 2338.2,927.6 2338.1,930.2 2338.9,932.8 2338.2,934.4 2338.5,937.4 2339.1,940.1 2338.8,942.7 2339.0,945.3 2339.2,947.7 2338.9,949.7 2339.3,953.2 2340.0,955.0 2339.7,957.8 2339.7,960.0 2340.2,962.4 2339.6,965.2 2339.7,967.6 2339.8,965.5 2340.1,963.1 2340.8,960.5 2340.9,958.0 2340.9,955.2 2341.6,952.4 2341.8,950.3 2342.3,947.8 2342.0,945.4 2341.9,942.4 2342.3,940.3 2342.7,937.1 2343.0,935.6 2342.5,933.1 2342.7,929.9 2342.1,926.9 2342.8,925.3 2342.9,922.8 2342.7,920.3 2342.9,917.7 2342.9,915.2 2343.0,912.0 2343.1,910.2 2342.9,908.1 2343.0,904.6 2343.1,902.3 2342.7,900.5 2342.8,897.8 2342.8,895.0 2343.8,892.0 2343.7,889.4 2343.9,888.0 2343.3,885.2 2343.4,882.1 2343.3,879.9 2344.0,877.0 2343.6,875.0 2343.7,872.9 2343.8,869.8 2344.2,867.6 2343.5,865.1 2344.2,862.0 2344.0,860.0 2343.6,857.1 2343.6,854.9 2343.9,852.6 2343.7,850.1 2344.0,847.9 2344.4,844.7 2344.7,842.6 2343.9,839.7 2344.4,837.4 2344.4,834.7 2344.7,832.2 2344.7,829.9 2344.2,827.6 2344.4,825.1 2344.4,823.0 2344.7,819.5 2345.0,816.9 2343.9,815.4 2344.2,811.9 2344.1,810.0 2345.0,806.9 2344.2,804.4 2344.1,802.3 2344.7,800.6 2344.9,797.9 2344.8,795.5 2345.0,792.2 2344.6,790.0 2344.4,788.0 2344.8,784.6 2344.9,782.9 2344.7,780.1 2344.5,777.2 2344.6,775.0 2345.3,772.2 2345.3,770.1 2345.4,768.1 2344.9,765.6 2345.1,762.5 2344.8,759.5 2345.4,757.0 2344.8,754.5 2345.5,752.1 2345.2,750.3 2345.5,747.1 2345.8,745.6 2345.8,742.4 2345.8,740.2 2346.2,737.8 2345.6,735.3 2345.5,732.1 2346.0,729.6 2346.2,727.2 2346.7,724.9 2346.6,723.0 2346.2,720.3 2346.3,717.4 2346.0,715.2 2347.0,712.7 2346.3,710.0 2346.5,707.4 2347.0,704.4 2346.7,702.5 2346.4,700.3 2346.6,697.4 2346.7,695.1 2347.0,692.7 2347.0,690.3 2347.2,687.0 2347.2,684.7 2347.1,683.0 2347.4,680.3 2347.0,677.7 2347.1,674.7 2347.1,671.9 2348.1,670.6 2347.6,666.9 2348.1,665.2 2347.3,662.8 2347.4,659.7 2348.3,657.8 2347.7,655.0 2348.5,652.6 2348.2,649.6 2347.7,647.1 2348.3,645.1 2348.2,642.7 2348.4,640.2 2348.2,637.9 2348.4,635.5 2349.0,632.9 2348.8,630.2 2348.5,627.2 2348.0,625.2 2348.2,622.6 2348.6,620.1 2348.5,617.2 2348.4,615.2 2349.1,612.3 2348.5,609.9 2348.6,607.7 2349.0,605.3 2349.1,602.8 2349.4,599.9 2348.8,597.7 2348.6,595.4 2348.8,592.6 2348.9,589.8 2348.4,587.2 2349.0,585.5 2348.6,583.0 2349.6,580.3 2348.8,576.9 2349.6,574.5 2348.9,573.0 2349.4,570.4 2349.6,567.1 2349.2,564.5 2349.1,562.5 2349.7,559.7 2349.5,557.1 2349.0,554.5 2349.5,552.6 2349.7,549.9 2350.0,547.8 2349.5,545.4 2349.1,542.3 2349.6,540.1 2350.1,537.7 2349.0,535.5 2349.6,532.1 2350.0,530.2 2350.1,527.6 2349.4,525.0 2349.7,522.3 2349.9,519.6 2349.5,517.0 2349.3,515.0 2350.1,512.4 2350.4,510.1 2350.1,507.2 2350.4,504.8 2350.4,502.2 2350.5,500.2 2349.8,497.8 2349.9,494.9 2350.4,492.3 2350.5,489.6 2350.7,487.0 2351.4,484.8 2351.4,482.4 2351.9,480.5 2351.7,477.9 2352.2,475.5 2351.7,472.6 2351.5,469.8 2352.0,467.6 2351.7,465.3 2352.0,462.4 2352.6,460.4 2353.0,457.1 2353.2,454.7 2353.3,452.4 2353.9,449.9 2353.2,447.3 2354.2,444.8 2353.5,442.5 2354.2,440.5 2353.7,437.3 2354.6,435.0 2354.7,432.7 2354.2,429.5 2354.4,427.3 2354.6,424.7 2354.7,421.9 2355.4,420.3 2355.1,417.0 2355.9,414.5 2355.4,412.5 2355.8,410.3 2356.2,407.5 2356.2,404.4 2356.9,402.4 2357.1,399.5 2356.8,397.5 2356.6,394.5 2357.7,393.0 2357.9,390.1 2357.8,387.6 2357.6,384.6 2358.0,382.4 2358.2,379.5 2358.0,377.0 2358.9,374.9 2358.6,372.8 2359.1,369.7 2359.3,366.8 2359.2,364.3 2360.5,362.8 2360.3,360.4 2360.6,357.5 2360.3,354.7 2361.2,352.2 2361.5,349.6 2361.8,346.9 2361.9,344.6 2362.2,341.7 2362.2,339.9 2362.4,337.1 2363.6,334.8 2363.6,332.4 2364.2,329.5 2363.8,327.4 2363.6,324.5 2364.2,322.1 2365.0,320.0 2365.0,317.2 2364.5,319.7 2365.5,322.2 2364.9,324.6 2364.8,326.7 2364.6,329.9 2364.9,331.5 2365.0,335.0 2365.0,336.8 2365.4,339.3 2364.8,342.1 2364.4,344.4 2364.4,346.8 2364.2,349.9 2365.0,351.9 2365.3,354.7 2364.7,357.8 2364.9,359.8 2365.0,362.6 2364.4,364.3 2364.9,367.6 2364.8,369.4 2364.9,372.0 2365.0,375.0 2364.8,376.9 2364.4,380.2 2364.1,381.9 2364.4,385.4 2364.7,387.2 2364.0,390.4 2365.2,392.7 2364.7,395.3 2364.8,397.1 2365.4,400.5 2365.3,402.1 2366.5,405.3 2366.2,407.0 2367.2,410.6 2367.5,412.6 2366.8,415.3 2367.8,417.9 2368.2,420.0 2368.7,422.5 2368.4,425.2 2369.1,427.6 2369.5,429.7 2369.5,433.0 2368.8,434.4 2369.2,437.6 2369.6,440.1 2369.3,442.8 2368.7,445.2 2369.0,447.2 2368.8,449.8 2369.4,452.6 2368.9,454.5 2369.5,457.8 2369.6,460.3 2368.7,462.2 2369.2,464.8 2369.6,467.1 2368.7,469.9 2368.7,471.9 2369.4,475.1 2369.3,477.0 2369.4,480.0 2369.1,482.2 2368.9,485.0 2369.2,487.6 2369.6,489.7 2369.5,492.2 2369.7,494.6 2369.5,497.8 2369.8,500.0 2369.9,503.1 2369.8,504.8 2369.2,507.7 2369.0,509.6 2369.0,512.7 2369.4,515.5 2369.9,517.5 2369.3,519.8 2369.0,522.0 2370.0,524.8 2369.0,528.1 2369.4,530.3 2369.5,533.1 2369.1,535.0 2369.8,536.9 2370.1,539.8 2369.9,542.0 2369.2,544.5 2370.0,548.0 2370.2,550.0 2369.2,552.8 2369.7,555.3 2369.9,557.6 2369.4,559.6 2369.3,562.4 2369.5,565.5 2369.3,567.8 2369.4,569.5 2370.3,572.2 2370.0,575.1 2369.7,577.3 2369.5,580.2 2369.7,582.6 2370.3,584.5 2369.8,587.3 2370.5,590.1 2369.6,592.5 2369.4,595.0 2369.5,597.1 2370.0,600.0 2369.7,602.6 2369.8,605.2 2369.5,607.9 2370.0,609.6 2369.9,612.7 2369.7,615.5 2369.8,617.4 2369.7,619.9 2370.8,622.1 2369.9,625.1 2370.4,627.1 2370.0,630.1 2370.0,631.9 2370.6,635.4 2370.7,637.9 2370.1,639.8 2370.5,642.6 2370.6,645.1 2370.2,647.2 2370.0,649.5 2370.6,652.0 2371.0,655.6 2370.2,658.1 2370.7,659.4 2370.5,662.3 2370.4,664.5 2370.4,666.9 2370.6,670.0 2370.4,673.0 2371.2,675.0 2371.1,677.3 2371.1,680.3 2370.6,682.8 2370.7,684.6 2370.8,687.0 2371.2,689.7 2370.9,692.9 2371.1,695.5 2371.2,697.7 2371.3,700.2 2371.6,702.6 2371.3,705.1 2371.3,708.0 2371.1,709.6 2371.4,712.3 2371.7,715.2 2370.9,717.2 2371.7,719.9 2371.9,722.5 2371.3,725.2 2372.4,727.0 2372.0,730.1 2372.1,732.5 2372.1,735.6 2372.6,737.4 2372.6,740.2 2372.6,743.1 2371.8,744.7 2372.1,747.9 2373.0,749.7 2372.6,753.0 2372.9,755.1 2373.2,758.0 2372.3,760.6 2372.6,762.6 2373.3,764.8 2372.8,768.0 2373.4,770.6 2372.7,772.7 2373.5,775.5 2373.6,777.2 2372.9,779.6 2373.2,782.6 2373.3,784.6 2373.1,787.7 2374.1,789.5 2373.8,793.1 2373.7,795.0 2374.3,796.9 2374.4,800.3 2374.4,802.3 2374.3,805.6 2373.9,807.1 2374.8,810.6 2374.3,812.2 2374.8,815.5 2375.1,817.8 2374.6,819.8 2375.4,823.0 2375.0,824.7 2375.4,827.6 2375.6,829.9 2375.4,833.0 2376.6,835.5 2376.7,837.4 2376.5,840.2 2376.9,843.0 2376.8,845.9 2377.4,847.5 2376.9,849.9 2377.2,852.6 2377.5,855.3 2376.8,858.5 2377.1,855.2 2377.7,852.4 2378.1,850.7 2377.4,848.1 2377.5,845.4 2377.6,842.6 2378.1,840.4 2378.5,838.3 2378.2,835.1 2378.2,833.1 2378.5,829.9 2378.4,827.6 2379.3,825.1 2379.4,822.7 2379.2,819.9 2379.1,817.9 2378.8,815.1 2379.1,812.4 2379.4,809.7 2379.8,807.0 2379.5,804.8 2379.5,802.9 2380.2,800.5 2379.6,797.1 2379.9,795.0 2380.6,792.9 2380.7,789.4 2379.8,787.3 2380.3,784.4 2380.3,782.1 2381.0,779.7 2380.4,777.1 2381.1,774.5 2380.7,772.2 2380.5,770.6 2381.1,767.8 2380.8,765.6 2381.6,762.7 2380.8,759.5 2381.2,757.5 2381.7,755.6 2381.7,752.2 2381.9,750.1 2380.9,747.1 2382.0,745.4 2381.8,742.7 2381.0,740.5 2381.4,737.8 2381.8,735.0 2381.9,733.0 2382.3,729.9 2382.4,727.1 2381.8,724.8 2381.5,722.4 2381.6,720.6 2382.6,717.5 2381.8,714.7 2382.7,712.3 2381.9,709.9 2382.6,707.1 2382.4,705.1 2382.9,702.4 2383.3,699.7 2383.0,697.0 2383.1,695.1 2382.2,692.9 2383.0,689.6 2383.0,688.1 2382.3,685.3 2382.8,682.6 2382.3,679.8 2382.8,677.8 2382.9,674.5 2382.5,672.7 2382.0,669.4 2382.8,667.8 2382.5,664.8 2382.2,662.9 2381.7,660.3 2382.4,657.5 2382.7,655.2 2382.6,652.1 2382.0,649.8 2382.1,647.8 2382.6,645.5 2382.4,643.1 2382.3,640.3 2381.5,637.4 2381.9,634.5 2382.4,632.3 2381.5,629.5 2381.9,627.3 2382.3,625.2 2381.7,622.1 2381.2,620.2 2381.8,617.5 2381.7,614.9 2382.1,612.0 2381.3,610.4 2381.4,607.3 2381.5,604.8 2381.8,602.0 2381.6,600.3 2381.3,597.8 2381.3,595.1 2380.9,592.3 2381.4,590.1 2381.3,586.9 2381.4,585.4 2381.0,582.1 2381.4,579.7 2380.7,577.0 2381.3,575.5 2381.5,572.6 2381.6,570.4 2380.8,567.4 2381.6,565.5 2381.2,562.7 2380.8,559.5 2380.9,557.2 2381.3,555.2 2381.4,553.0 2380.7,549.6 2380.9,547.3 2381.9,545.0 2381.9,542.1 2381.4,540.4 2381.4,537.8 2381.8,535.2 2381.2,532.3 2382.5,529.9 2381.7,528.1 2382.1,525.2 2382.1,522.6 2382.0,519.7 2382.0,517.2 2382.5,514.5 2381.9,512.5 2383.0,510.3 2382.7,507.8 2382.2,505.0 2382.1,502.5 2382.2,499.5 2382.4,497.3 2382.9,494.7 2382.5,492.0 2383.6,490.6 2383.6,487.1 2382.8,485.5 2382.7,482.1 2383.5,480.6 2383.9,477.9 2383.3,475.3 2384.1,473.0 2384.2,470.3 2384.0,467.7 2383.7,465.1 2384.4,462.6 2383.3,459.9 2384.4,457.8 2384.0,455.5 2384.4,452.2 2384.4,450.4 2383.8,448.0 2384.5,445.5 2384.1,442.3 2384.6,439.7 2385.2,437.9 2385.4,435.6 2384.9,432.4 2385.4,430.5 2386.0,428.3 2386.3,425.2 2386.3,423.1 2386.2,420.4 2386.8,418.1 2386.1,414.7 2386.9,413.2 2386.5,410.7 2387.3,407.4 2386.8,405.5 2387.5,402.4 2388.0,400.0 2388.1,398.4 2387.4,395.6 2388.1,393.4 2388.1,390.3 2388.0,388.4 2388.3,386.0 2388.1,383.5 2388.5,385.7 2389.9,387.7 2389.9,390.3 2389.6,393.3 2390.5,395.7 2390.3,397.4 2390.8,400.6 2391.0,402.2 2391.7,405.1 2392.6,408.1 2392.3,410.4 2392.8,412.9 2393.5,414.6 2393.6,417.4 2394.0,420.1 2394.6,422.4 2394.8,425.4 2395.3,427.1 2395.1,429.7 2396.4,432.4 2396.7,435.6 2396.9,437.3 2397.3,440.0 2397.6,437.5 2397.4,435.2 2397.5,432.1 2397.5,429.9 2397.7,427.8 2397.3,424.8 2397.4,423.1 2397.8,419.9 2398.5,417.8 2398.5,415.0 2397.7,412.3 2397.7,409.9 2398.3,407.5 2399.0,405.0 2398.1,402.1 2398.9,400.0 2398.6,397.5 2398.7,395.2 2399.1,392.0 2399.0,389.7 2399.2,387.5 2399.6,385.6 2399.6,382.6 2399.5,379.5 2399.8,377.1 2399.5,375.1 2399.5,372.9 2399.9,370.6 2399.4,367.5 2399.9,365.1 2400.3,362.6 2400.8,359.9 2400.2,357.8 2400.5,354.7 2401.1,352.2 2400.2,350.0 2401.3,347.9 2401.3,345.1 2401.0,342.2 2400.7,339.9 2401.6,337.6 2401.9,335.4 2401.4,332.6 2401.4,330.5 2401.9,327.1 2402.0,325.2 2401.4,322.8 2401.5,320.2 2401.6,317.7 2402.2,315.5 2401.7,312.4 2402.0,310.2 2401.3,307.5 2401.5,305.2 2401.4,302.3 2401.5,299.7 2402.0,297.9 2402.1,295.2 2402.2,292.4 2401.9,290.2 2401.6,287.8 2402.5,285.5 2401.5,283.0 2401.7,279.6 2402.2,277.3 2401.7,275.1 2402.2,272.5 2402.2,270.1 2402.6,267.8 2402.5,265.4 2402.2,262.7 2401.8,259.5 2402.3,257.7 2402.0,255.6 2402.1,252.5 2402.4,250.6 2402.0,247.2 2402.6,244.8 2402.3,242.1 2403.0,239.9 2402.7,237.2 2403.1,234.5 2402.9,232.0 2402.7,229.8 2403.2,227.4 2403.1,224.4 2402.4,223.1 2402.6,219.4 2402.5,217.3 2402.9,214.9 2402.6,212.5 2402.8,209.6 2402.9,207.6 2403.0,205.3 2402.9,202.2 2403.5,199.5 2402.8,197.4 2403.0,194.7 2403.6,192.3 2403.2,190.1 2402.8,187.4 2402.8,185.1 2403.6,182.9 2403.9,179.5 2403.3,177.7 2403.3,175.5 2403.5,172.9 2403.0,169.9 2403.8,167.9 2403.6,165.4 2404.0,162.4 2403.9,160.0 2403.3,158.0 2404.2,155.5 2403.5,152.8 2403.3,150.0 2403.7,147.5 2403.8,145.1 2403.9,142.8 2404.2,139.7 2403.7,137.2 2403.9,134.9 2404.2,132.8 2404.8,129.7 2404.0,127.5 2403.7,125.2 2403.8,122.6 2404.5,119.9 2405.0,117.3 2403.9,114.5 2404.2,112.8 2404.9,109.8 2405.1,107.1 2404.3,105.1 2404.7,102.8 2404.5,100.5 2404.9,97.7 2404.9,94.7 2404.9,93.0 2404.3,89.8 2404.7,87.2 2405.3,85.2 2404.6,87.7 2405.5,89.5 2404.6,92.6 2405.6,95.1 2405.2,97.4 2405.3,100.5 2405.4,102.8 2405.3,105.5 2405.7,107.5 2405.2,109.8 2406.1,112.7 2405.0,115.0 2405.5,117.6 2405.3,120.5 2405.6,122.9 2405.4,125.5 2405.8,127.6 2405.7,130.5 2405.9,132.5 2405.7,134.9 2405.6,137.4 2405.7,139.5 2405.8,141.9 2406.2,144.5 2406.6,147.3 2405.9,150.1 2405.9,152.8 2406.0,155.5 2405.7,157.0 2406.8,160.2 2406.1,162.7 2406.2,165.0 2406.2,167.5 2406.7,170.4 2406.2,172.6 2406.6,175.4 2406.6,177.9 2407.2,179.9 2406.6,183.1 2406.8,185.0 2407.1,187.6 2406.8,190.2 2406.6,192.4 2406.3,195.3 2407.3,197.8 2407.6,200.3 2406.5,202.3 2407.5,204.5 2407.5,207.9 2406.6,209.7 2407.3,212.7 2406.5,215.0 2406.7,217.9 2407.1,219.4 2407.0,221.9 2407.6,225.5 2407.4,226.9 2407.7,229.7 2407.3,232.8 2407.2,234.5 2406.9,237.8 2406.7,239.9 2407.7,242.4 2406.8,245.2 2407.1,247.8 2407.1,250.4 2407.7,252.1 2407.3,254.9 2406.8,258.0 2407.1,260.1 2406.8,263.0 2407.9,265.2 2406.9,267.7 2407.3,270.0 2407.0,272.1 2407.8,275.1 2407.7,277.8 2407.3,280.1 2407.2,282.7 2407.3,285.3 2407.2,287.4 2406.9,289.4 2407.1,291.9 2407.4,294.9 2407.9,297.0 2408.1,299.5 2407.9,302.3 2407.2,305.1 2407.4,306.9 2407.1,310.2 2407.8,313.1 2407.3,315.3 2407.4,317.5 2407.3,319.9 2408.1,322.2 2407.5,325.5 2407.6,327.9 2407.7,329.8 2407.9,332.7 2407.5,335.6 2407.2,337.9 2408.0,340.3 2407.7,342.8 2407.2,345.2 2408.2,347.4 2408.0,350.2 2407.8,352.8 2407.8,354.5 2407.8,357.8 2407.4,360.0 2408.2,361.9 2408.3,364.8 2407.7,367.7 2407.9,369.7 2407.4,372.4 2408.3,375.6 2408.1,377.7 2408.1,380.5 2407.5,382.1 2408.3,384.4 2408.0,387.4 2408.5,390.1 2407.6,392.0 2407.9,395.1 2407.9,397.6 2407.5,399.8 2408.4,402.2 2407.6,404.6 2408.5,407.9 2407.9,409.8 2407.8,413.0 2408.5,415.5 2408.4,417.7 2407.5,420.5 2407.6,422.8 2407.8,424.4 2408.2,427.2 2408.5,429.6 2408.2,432.4 2407.5,434.7 2407.8,437.8 2408.3,440.5 2407.6,442.2 2407.8,444.8 2407.6,447.8 2407.4,450.0 2407.6,452.3 2407.8,455.0 2408.5,457.8 2407.9,460.6 2407.7,462.1 2408.2,465.3 2408.3,467.5 2408.3,469.8 2408.5,472.8 2408.4,475.0 2408.5,477.5 2408.5,479.9 2408.5,482.3 2408.0,485.1 2408.1,487.9 2408.4,489.6 2408.2,492.5 2407.9,494.5 2408.5,498.1 2408.3,500.1 2407.5,502.3 2407.8,504.5 2407.9,507.3 2407.9,509.5 2407.6,513.0 2408.1,514.7 2407.9,517.3 2408.0,519.6 2408.3,523.0 2408.2,525.6 2408.4,527.5 2408.0,530.2 2407.8,532.0 2407.9,535.4 2408.2,536.9 2408.4,539.5 2408.0,542.1 2407.8,544.7 2408.1,547.8 2408.5,550.0 2407.5,551.9 2407.5,554.6 2407.6,557.3 2407.6,560.4 2407.8,562.5 2408.3,564.6 2408.0,566.9 2408.0,570.5 2408.1,572.3 2408.2,575.0 2408.0,577.7 2408.3,580.5 2408.6,583.1 2408.4,585.2 2408.4,587.1 2407.6,590.4 2407.9,591.9 2408.3,594.6 2407.7,598.0 2407.6,600.4 2407.8,602.9 2407.9,605.1 2408.3,607.8 2407.8,610.3 2407.8,612.3 2408.5,614.7 2408.1,617.2 2408.4,619.8 2408.1,623.3 2408.3,625.2 2407.8,627.4 2407.9,630.4 2408.0,632.4 2408.0,635.6 2408.7,637.6 2408.3,640.1 2408.6,642.9 2408.2,644.9 2408.8,647.6 2408.9,650.0 2408.2,652.4 2409.2,655.5 2408.2,657.8 2409.0,660.1 2409.2,662.4 2408.9,665.6 2408.5,668.6 2409.0,670.1 2409.3,672.5 2409.2,676.0 2409.2,677.5 2408.6,681.0 2409.5,682.9 2409.7,686.1 2408.7,688.7 2408.6,690.5 2408.9,692.9 2409.3,695.2 2409.9,697.9 2409.6,700.6 2409.9,703.4 2409.4,706.2 2409.5,708.3 2409.1,711.2 2409.7,713.4 2410.2,715.9 2409.9,718.0 2409.5,721.1 2409.4,724.1 2410.3,726.2 2410.0,723.2 2410.1,721.4 2409.8,718.5 2410.1,715.6 2409.5,713.0 2410.1,711.0 2410.5,708.1 2409.8,705.7 2409.8,703.0 2410.3,701.0 2409.9,697.9 2410.4,695.8 2410.1,693.4 2410.6,691.3 2411.1,688.4 2410.2,685.7 2410.4,682.9 2410.3,680.9 2411.0,677.8 2410.6,676.2 2411.0,673.3 2410.7,671.1 2411.3,668.1 2410.7,665.4 2410.6,662.7 2411.6,660.0 2411.0,657.8 2411.9,655.0 2411.3,653.0 2411.0,650.5 2411.0,647.7 2411.4,646.0 2411.6,642.6 2411.5,640.1 2411.4,637.6 2412.1,635.1 2411.6,632.2 2412.3,630.0 2411.8,628.1 2412.7,625.3 2411.6,623.1 2412.5,619.6 2412.0,618.0 2412.3,614.7 2413.0,612.3 2412.1,610.3 2413.1,607.8 2412.0,604.5 2412.3,602.7 2413.3,599.5 2413.0,597.7 2412.2,595.5 2412.6,592.3 2413.3,590.1 2413.1,587.0 2413.2,584.6 2413.5,582.8 2413.3,580.2 2413.8,577.9 2413.5,574.8 2412.7,573.1 2412.8,569.5 2413.5,568.1 2413.4,564.7 2412.9,562.1 2413.4,559.8 2413.4,558.0 2414.3,555.6 2413.4,552.7 2413.4,550.0 2413.9,547.3 2414.3,544.7 2414.3,542.8 2414.2,539.5 2413.6,537.9 2414.7,534.7 2414.4,532.8 2414.7,529.6 2413.9,527.0 2414.6,524.8 2414.6,522.1 2414.6,519.7 2414.4,517.6 2415.1,514.6 2415.0,512.0 2414.3,510.2 2414.2,507.9 2415.3,504.7 2415.1,502.7 2415.5,500.0 2414.8,498.0 2414.7,495.5 2414.9,492.4 2415.5,490.3 2414.8,487.7 2415.8,484.9 2415.4,482.7 2415.6,479.9 2415.3,477.1 2415.6,474.8 2415.8,472.0 2415.9,469.6 2416.1,467.9 2415.5,464.5 2415.4,462.1 2416.4,460.4 2415.3,456.9 2416.0,454.9 2416.0,452.9 2416.4,449.6 2416.6,447.5 2416.1,444.6 2415.8,442.1 2415.9,440.1 2416.0,437.2 2415.8,434.5 2416.8,432.4 2416.3,429.6 2417.0,426.9 2416.8,424.5 2416.3,422.5 2416.5,420.2 2416.7,417.7 2416.2,414.8 2416.5,412.5 2416.7,409.5 2416.4,407.0 2416.4,405.2 2417.5,402.6 2416.6,400.1 2417.0,397.2 2417.5,394.7 2416.9,392.0 2416.9,390.5 2417.2,387.8 2417.3,384.7 2417.2,382.5 2417.2,380.0 2416.9,377.4 2417.0,375.0 2417.6,373.0 2418.0,370.5 2417.6,367.3 2418.1,364.5 2417.6,362.0 2418.2,360.3 2418.4,357.1 2418.3,355.2 2418.0,352.4 2418.4,350.0 2418.6,348.0 2417.9,345.0 2418.1,343.0 2418.6,339.9 2418.1,337.3 2418.5,335.2 2418.5,332.5 2418.6,329.4 2418.4,327.7 2418.8,325.4 2418.2,323.0 2419.2,320.1 2419.0,317.1 2418.3,314.7 2418.8,313.0 2418.6,310.5 2419.2,307.0 2418.3,305.6 2418.9,302.8 2419.4,299.8 2418.4,297.9 2419.6,294.9 2419.3,291.9 2419.6,290.1 2419.7,287.7 2419.0,284.6 2419.2,282.9 2419.2,280.0 2418.9,277.1 2418.9,274.8 2419.2,273.0 2419.0,269.7 2419.6,268.0 2419.0,264.8 2419.3,262.0 2418.9,260.1 2419.1,257.2 2419.8,255.0 2419.5,252.7 2419.8,250.5 2420.1,247.0 2419.8,244.4 2419.1,242.2 2419.1,239.6 2419.3,237.9 2420.0,235.0 2419.7,232.8 2419.8,229.5 2419.7,227.1 2419.7,225.6 2419.4,222.3 2419.9,220.2 2419.6,217.4 2419.8,215.5 2419.3,213.0 2419.9,210.5 2419.8,207.7 2419.4,204.7 2420.1,202.3 2420.0,200.6 2420.1,197.7 2420.1,194.7 2420.6,192.4 2419.5,189.9 2420.0,187.1 2420.0,184.5 2420.7,182.5 2419.9,180.1 2420.3,177.4 2420.6,174.9 2420.8,172.8 2420.5,169.6 2420.5,168.1 2420.7,164.5 2420.1,161.9 2420.6,160.5 2420.6,157.7 2420.5,155.3 2420.5,152.9 2420.1,150.0 2420.6,147.0 2420.6,145.5 2420.0,142.8 2420.8,140.5 2421.1,137.7 2420.7,135.0 2420.6,132.6 2420.5,130.4 2420.7,127.4 2420.7,125.3 2421.1,122.9 2421.0,119.7 2420.2,117.0 2420.3,115.0 2420.3,112.5 2421.2,109.9 2421.3,107.3 2420.9,104.7 2420.5,102.6 2420.5,99.6 2420.7,97.8 2421.6,94.7 2420.7,98.1 2421.2,100.4 2421.7,102.7 2420.9,105.6 2421.7,106.9 2421.9,110.2 2421.0,112.5 2421.1,115.3 2421.3,117.0 2422.0,119.8 2421.1,122.7 2421.1,125.1 2421.6,127.0 2422.2,130.2 2421.2,133.0 2421.9,135.4 2422.1,137.1 2421.6,139.6 2422.3,143.0 2422.1,145.2 2422.6,147.5 2422.0,149.7 2422.7,152.0 2421.8,155.4 2421.6,157.1 2422.3,159.7 2422.2,161.9 2422.6,164.5 2422.2,167.0 2422.7,169.7 2422.6,171.9 2422.6,174.8 2423.1,177.1 2422.4,180.4 2422.2,182.5 2422.7,184.7 2422.4,187.5 2422.3,189.4 2422.6,192.4 2422.6,195.3 2422.9,197.6 2423.1,200.3 2423.6,202.6 2423.4,205.1 2422.7,207.9 2423.3,209.4 2423.6,212.5 2423.9,214.9 2423.3,218.0 2423.9,220.3 2423.4,222.4 2423.8,225.5 2423.5,227.7 2423.7,230.1 2423.3,232.2 2423.4,235.6 2423.2,237.2 2423.5,240.4 2424.1,242.3 2423.4,245.2 2424.2,247.7 2424.3,250.1 2423.5,252.9 2424.6,254.6 2424.1,258.1 2424.8,260.4 2424.7,262.1 2424.9,265.4 2424.1,268.0 2424.9,270.5 2425.1,272.0 2424.3,275.4 2424.3,277.3 2425.1,280.4 2424.7,282.4 2425.2,285.6 2425.2,287.3 2424.8,289.6 2425.3,292.8 2424.9,295.3 2425.4,297.6 2425.4,299.9 2424.8,302.5 2425.7,305.5 2426.1,307.7 2425.2,310.4 2425.6,313.1 2426.3,314.5 2425.3,317.0 2426.1,320.0 2426.1,322.3 2426.1,324.5 2425.7,327.8 2425.8,329.5 2426.4,333.1 2426.8,335.5 2426.6,336.9 2426.0,340.1 2426.5,342.9 2426.0,345.2 2426.1,347.8 2426.2,350.0 2427.1,353.1 2427.2,355.3 2426.6,357.7 2427.0,360.0 2427.1,362.4 2426.9,365.3 2427.3,368.1 2427.7,370.4 2426.8,372.5 2427.3,375.3 2427.9,377.1 2426.9,380.4 2428.1,382.3 2427.7,384.9 2427.5,387.7 2428.0,390.5 2427.6,392.5 2427.8,395.6 2428.0,398.0 2428.0,400.0" fill="none" stroke="#0000ff" stroke-width="10.3" stroke-linejoin="round" stroke-linecap="round"/>
<polyline points="228.4,70.9 230.4,70.5 232.5,75.9 234.5,72.1 236.6,77.2 238.6,76.8 240.5,75.4 242.3,80.5 244.2,77.7 246.1,79.9 247.9,75.5 249.8,74.5 252.3,76.7 254.8,79.6 257.3,72.8 259.8,72.8 262.3,75.3 264.8,77.2 267.6,74.0 270.4,72.4 273.1,77.4 275.9,69.4 277.8,77.6 279.6,73.8 281.5,73.8 283.4,74.7 285.3,78.5 287.1,85.1 289.0,81.7 290.9,83.6 292.7,82.6 294.6,78.7 296.5,78.6 298.4,72.8 300.2,71.1 302.1,70.8 304.0,76.0 305.8,75.0 307.6,75.2 309.5,78.7 311.4,79.4 313.2,80.0 315.1,86.1 317.0,87.1 318.9,82.0 320.7,83.6 322.6,81.9 323.8,82.8 325.1,79.3 326.3,73.4 328.6,79.1 331.0,71.4 333.3,73.7 335.6,76.4 337.1,73.4 338.6,78.6 340.1,76.9 341.6,84.6 343.1,87.7 345.9,85.1 348.7,86.8 350.1,79.9 351.5,81.1 352.9,78.1 354.3,75.9 357.1,75.0 359.9,78.6 362.7,79.7 365.5,75.9 367.8,77.0 370.1,71.4 372.5,76.4 374.8,75.5 377.4,78.1 380.0,76.3 382.6,71.3 385.2,71.8 387.8,73.9 389.7,69.7 391.6,74.9 393.4,73.7 395.3,74.7 396.4,76.4 397.5,84.8 398.7,81.5 399.8,84.8 400.9,88.3 402.1,94.9 403.4,90.5 404.6,96.2 406.5,95.2 408.3,96.2 409.4,93.4 410.5,91.6 411.7,84.3 412.8,83.2 413.9,80.5 415.8,86.9 417.6,89.4 419.5,84.3 421.9,86.5 424.2,87.8 425.0,85.6 425.8,84.8 426.5,83.1 427.3,79.2 428.1,75.6 428.9,75.7 430.8,74.5 432.6,74.6 434.5,75.7 437.2,74.3 439.8,73.4 442.5,73.9 445.1,74.3 447.8,70.9 450.4,75.5 453.1,74.8 455.4,76.5 457.8,77.3 460.1,76.2 462.4,77.5 463.6,78.0 464.9,83.1 466.1,82.1 467.4,84.3 468.6,87.3 469.9,89.2 472.7,91.1 475.5,90.5 476.7,88.0 478.0,86.7 479.2,84.2 481.1,86.9 482.9,86.3 484.8,92.1 487.6,91.2 490.4,89.1 492.3,88.4 494.1,87.7 496.0,86.6 498.5,85.0 500.9,88.6 503.4,89.1 505.3,88.4 507.1,90.6 509.0,90.7 510.3,92.9 511.5,96.4 512.8,98.1 514.7,99.6 516.5,94.5 518.4,92.2 520.9,97.2 523.3,95.0 525.8,92.9 527.7,96.9 529.5,95.9 531.4,100.5 533.3,104.8 534.0,106.4 534.8,107.7 535.5,107.6 536.3,110.4 537.0,111.6 539.5,115.2 542.0,114.2 544.5,115.8 546.4,115.2 548.2,116.5 550.1,121.6 552.6,122.5 555.0,121.8 557.5,121.6 558.8,123.7 560.0,125.3 561.2,124.5 562.5,128.1 563.8,129.3 565.0,129.6 566.1,131.8 567.2,135.3 568.4,137.5 569.5,142.0 570.6,145.7 572.5,144.3 574.3,148.4 576.1,150.0 578.0,151.3 579.5,149.7 581.0,150.7 582.5,152.4 584.0,153.9 585.5,155.6 587.8,158.1 590.1,159.9 592.5,159.8 594.8,158.1 596.3,160.9 597.8,163.5 599.3,161.5 600.8,166.5 602.3,169.7 603.8,170.9 605.3,172.6 606.7,173.0 608.2,173.2 609.7,178.4 611.1,177.8 612.5,182.2 613.9,185.0 615.3,183.7 616.8,185.6 618.3,190.4 619.8,191.1 621.2,190.0 622.7,191.6 624.2,193.6 626.1,199.5 628.0,200.9 629.8,199.1 631.7,204.7 633.0,207.7 634.2,208.1 635.5,208.6 636.7,211.9 638.0,211.8 639.2,213.4 641.7,220.1 644.1,219.9 646.6,220.7 649.4,223.4 652.2,221.2 654.7,222.3 657.2,220.8 659.7,216.2 662.5,216.7 665.3,217.2 668.1,217.1 670.9,219.3 672.8,215.6 674.6,214.6 676.4,211.2 678.3,213.5 680.8,209.3 683.3,208.6 685.8,208.1 688.1,209.1 690.5,205.8 692.8,207.8 695.1,204.8 697.6,205.0 700.1,204.9 702.6,202.2 703.8,202.0 705.1,198.1 706.3,194.6 708.8,199.2 711.3,196.2 713.8,198.2 716.1,199.3 718.5,198.1 720.8,196.6 723.1,197.4 725.0,195.7 726.8,195.1 728.6,189.6 730.5,190.2 732.4,187.6 734.3,186.8 736.8,190.7 739.2,190.5 741.7,192.0 744.2,192.8 746.7,193.3 749.2,190.5 751.1,189.8 752.9,187.6 754.8,186.0 756.6,185.3 758.5,182.2 760.3,180.7 762.2,178.6 764.6,180.6 766.9,178.8 769.2,179.3 771.6,179.2 773.0,173.6 774.4,173.4 775.8,173.6 777.2,171.1 779.5,166.7 781.9,165.9 784.2,167.0 786.5,164.3 789.0,164.3 791.4,162.4 793.9,164.7 795.3,163.5 796.7,162.2 798.1,156.3 799.5,157.5 801.9,156.7 804.2,153.4 806.5,156.9 808.9,156.9 811.2,152.2 813.5,155.4 815.9,151.8 818.2,151.5 820.7,155.2 823.1,155.3 825.6,152.6 827.5,152.9 829.4,152.2 831.2,150.1 833.1,148.2 834.6,150.5 836.1,154.4 837.6,152.2 839.1,156.8 840.6,157.9 843.4,155.6 846.2,157.3 848.7,157.6 851.1,155.7 853.6,152.0 855.1,154.8 856.6,151.5 858.1,150.2 859.6,143.3 861.1,141.9 862.6,138.9 864.1,141.0 865.5,136.4 867.0,133.8 868.5,133.5 870.4,134.7 872.2,132.8 874.1,128.4 876.0,126.4 877.9,129.3 879.7,126.2 881.6,125.7 883.5,123.6 885.3,124.7 887.2,129.3 888.7,129.8 890.2,129.7 891.6,136.2 893.1,136.5 894.6,139.2 897.0,135.8 899.3,140.5 901.6,136.7 904.0,141.5 905.1,141.5 906.2,143.1 907.4,146.5 908.5,150.8 909.6,149.4 912.1,149.3 914.5,152.1 917.0,151.2 918.9,148.6 920.7,147.0 922.6,144.6 923.3,143.1 924.1,141.5 924.8,139.2 925.6,139.4 926.3,134.7 928.2,134.2 930.0,130.8 931.9,130.1 933.8,126.7 936.1,127.7 938.5,126.2 940.8,129.8 943.1,128.6 945.4,125.7 947.8,126.3 950.1,127.9 952.4,122.5 954.3,128.2 956.1,128.0 958.0,130.2 960.8,132.0 963.6,129.6 964.7,128.1 965.7,127.0 966.8,126.4 967.9,120.8 969.0,121.4 970.0,118.5 971.1,116.0 973.4,113.4 975.8,111.7 978.1,108.7 980.4,107.7 981.9,105.5 983.4,107.2 984.9,102.7 986.4,100.4 987.9,98.1 990.4,100.9 992.8,99.8 995.3,97.5 997.5,95.0 999.8,94.3 1002.0,94.1 1004.2,94.6 1006.1,91.6 1008.0,91.7 1009.8,89.3 1011.7,91.7 1014.5,91.5 1017.3,89.0 1020.1,87.1 1022.9,90.7 1025.2,87.9 1027.5,88.8 1029.9,87.6 1032.2,90.4 1034.5,92.0 1036.8,93.4 1039.2,92.9 1041.5,95.7 1043.8,92.6 1046.2,93.5 1048.6,92.1 1050.9,93.3 1053.2,91.6 1055.6,91.7 1057.9,93.5 1060.2,93.4 1062.4,94.9 1064.7,94.2 1066.9,95.0 1069.2,94.1 1071.4,94.1 1073.7,94.7 1076.1,91.9 1078.4,91.3 1080.7,94.6 1083.2,91.0 1085.7,95.1 1088.2,95.6 1090.0,90.5 1091.9,92.9 1093.8,91.3 1095.6,88.0 1097.5,90.2 1099.3,92.2 1101.2,90.2 1103.1,93.9 1105.6,93.2 1108.0,94.4 1110.5,93.6 1113.0,94.4 1115.5,93.7 1118.0,95.9 1120.2,93.9 1122.5,93.0 1124.7,89.6 1127.0,87.6 1129.2,87.2 1132.0,88.4 1134.8,87.1 1137.6,91.0 1140.4,89.5 1143.2,89.9 1146.0,89.9 1148.8,90.2 1151.6,89.1 1154.1,85.3 1156.5,88.3 1159.0,86.7 1161.8,85.4 1164.6,85.6 1167.4,86.3 1170.2,83.1 1172.7,86.1 1175.2,82.9 1177.7,81.3 1180.2,82.3 1182.6,84.8 1185.1,82.0 1187.4,84.9 1189.8,86.2 1192.2,83.6 1194.5,83.0 1196.3,81.9 1198.2,81.5 1200.0,80.3 1202.5,80.8 1205.0,82.1 1207.5,80.3 1210.3,80.9 1213.1,81.8 1215.9,84.7 1218.7,82.5 1220.9,83.6 1223.2,80.2 1225.4,80.1 1227.7,80.8 1229.9,82.6 1232.4,81.8 1234.8,80.8 1237.3,77.8 1239.5,78.6 1241.8,77.9 1244.0,77.6 1246.3,75.3 1248.5,79.1 1250.7,75.8 1253.0,80.3 1255.2,80.5 1257.5,75.9 1259.7,78.7 1262.2,79.7 1264.7,79.6 1267.2,75.8 1269.7,75.5 1272.1,75.8 1274.6,80.4 1276.5,75.3 1278.3,76.1 1280.2,72.5 1282.1,73.4 1284.6,75.7 1287.1,71.3 1289.6,75.0 1291.4,74.5 1293.3,77.7 1295.2,77.9 1297.0,76.5 1299.5,78.9 1302.0,75.4 1304.5,71.6 1306.8,72.7 1309.2,76.5 1311.5,77.5 1313.8,77.8 1316.1,75.6 1318.4,75.3 1320.8,73.7 1323.1,75.1 1325.9,70.4 1328.7,74.2 1331.5,74.5 1334.3,70.3 1336.5,75.1 1338.8,74.3 1341.0,75.6 1343.3,72.7 1345.5,73.5 1348.1,73.4 1350.7,76.5 1353.4,74.1 1356.0,72.7 1358.6,72.9 1360.0,73.0 1361.9,73.2 1363.8,74.8 1365.6,80.2 1367.5,78.6 1370.0,82.5 1372.4,79.1 1374.9,79.5 1376.3,83.0 1377.7,83.3 1379.1,86.4 1380.5,91.7 1382.4,92.8 1384.2,93.9 1386.1,94.5 1388.0,94.3 1389.8,92.8 1391.7,89.2 1393.6,88.4 1396.1,83.8 1398.5,86.0 1401.0,83.4 1403.2,84.1 1405.5,82.8 1407.7,80.3 1410.0,78.4 1412.2,81.9 1414.5,77.1 1416.8,77.8 1419.2,76.3 1421.5,75.2 1423.8,76.5 1426.2,76.9 1428.6,72.9 1430.9,74.0 1433.7,72.4 1436.5,73.5 1439.3,72.8 1442.1,71.9 1444.6,72.8 1447.0,74.0 1449.5,77.8 1452.0,75.5 1454.5,73.7 1457.0,75.8 1459.5,76.0 1462.0,73.7 1464.5,72.4 1466.9,72.4 1469.4,71.9 1471.9,72.7 1474.2,72.3 1476.6,73.3 1478.9,73.9 1481.2,75.4 1483.5,75.9 1485.8,74.9 1488.2,73.1 1490.5,72.5 1493.0,72.9 1495.5,72.4 1498.0,72.3 1500.4,71.4 1502.9,72.1 1505.4,74.2 1507.9,71.7 1510.4,72.8 1512.9,73.2 1515.4,73.9 1517.9,72.0 1520.3,72.2 1522.8,72.1 1525.3,72.5 1527.8,72.7 1530.3,74.0 1532.8,73.8 1535.3,73.8 1537.7,71.7 1540.2,71.8 1542.7,73.5 1545.2,74.0 1547.7,73.0 1550.2,73.3 1552.7,72.0 1555.2,72.9 1557.6,74.1 1560.1,73.9 1562.6,74.0 1565.1,74.2 1567.4,73.3 1569.8,73.5 1572.2,74.1 1574.5,75.2 1577.0,75.2 1579.5,75.3 1582.0,74.6 1584.4,74.2 1586.9,74.0 1589.4,73.2 1591.7,73.9 1594.1,73.5 1596.4,75.2 1598.7,74.8 1601.3,75.3 1603.9,74.3 1606.5,73.2 1609.1,72.4 1611.7,72.0 1614.3,73.0 1616.9,73.4 1619.6,72.9 1622.2,73.1 1624.8,74.2 1627.3,74.2 1629.8,73.7 1632.2,73.3 1634.7,73.8 1637.2,72.7 1639.7,73.0 1642.4,73.2 1645.0,73.9 1647.7,73.3 1650.4,73.6 1653.1,72.9 1655.7,72.4 1658.4,72.4 1660.8,73.5 1663.2,73.1 1665.6,72.5 1668.0,72.0 1670.4,72.8 1673.0,72.7 1674.9,73.0 1677.6,73.8 1678.3,75.2 1680.7,76.9 1682.2,78.4 1684.3,80.3 1685.0,83.2 1686.6,85.4 1687.9,87.0 1689.4,89.2 1690.6,91.6 1690.6,93.5 1691.8,96.2 1693.4,97.7 1693.7,100.0 1695.3,102.1 1695.1,104.1 1696.5,107.3 1698.0,109.3 1699.1,111.7 1699.2,113.0 1700.5,116.1 1699.9,118.4 1700.8,120.4 1701.3,122.6 1701.4,125.1 1702.4,128.3 1702.6,130.8 1703.1,132.4 1704.3,135.4 1704.2,136.9 1704.7,139.6 1705.6,141.8 1705.3,145.1 1705.3,146.9 1706.6,149.6 1706.0,151.1 1706.4,154.5 1707.0,156.6 1708.1,158.4 1707.7,161.5 1708.5,163.0 1709.0,165.4 1708.7,167.5 1709.6,171.1 1709.8,173.6 1709.4,175.2 1710.3,178.6 1711.1,180.4 1710.9,182.9 1711.8,186.0 1712.1,188.4 1713.4,190.9 1714.0,193.1 1714.1,195.3 1714.8,198.3 1715.0,200.1 1716.5,202.6 1716.2,204.9 1717.4,207.7 1718.6,210.9 1719.2,212.6 1718.8,214.9 1719.9,218.1 1720.5,220.0 1721.1,223.0 1722.0,225.6 1723.0,228.1 1722.8,230.9 1723.8,233.2 1724.6,236.0 1725.1,238.0 1725.8,240.4 1727.2,243.4 1727.2,245.7 1728.6,248.3 1728.3,251.2 1729.5,253.9 1729.4,255.8 1730.7,258.7 1731.2,260.2 1730.9,262.8 1731.1,266.3 1732.0,268.7 1732.1,271.1 1732.6,272.8 1733.4,276.0 1733.0,278.0 1734.0,280.0 1734.1,282.3 1734.3,284.8 1735.2,287.7 1735.2,289.4 1735.8,292.7 1736.1,294.7 1736.6,297.8 1737.5,299.4 1737.4,302.3 1738.2,304.9 1737.9,306.7 1738.8,309.3 1738.6,311.5 1739.6,313.9 1739.4,316.3 1739.5,319.2 1740.4,320.9 1739.7,323.7 1740.0,325.2 1741.2,328.0 1741.4,330.3 1741.8,332.7 1741.2,334.5 1742.0,337.5 1742.7,339.2 1742.5,341.9 1742.6,344.0 1742.5,346.7 1743.5,348.6 1743.1,351.8 1743.9,353.4 1743.1,356.6 1744.3,358.4 1743.0,361.4 1743.2,363.9 1743.3,366.4 1742.5,368.8 1742.4,370.9 1743.0,373.9 1742.0,375.7 1742.1,378.6 1742.5,380.5 1742.7,383.5 1743.9,385.1 1743.9,388.3 1743.6,390.7 1744.1,392.7 1745.1,395.1 1745.2,397.2 1746.7,399.1 1748.1,401.0 1749.0,402.3 1750.8,401.0 1751.9,399.5 1754.1,397.2 1753.9,394.8 1754.3,391.9 1755.1,389.4 1755.6,387.4 1755.6,385.0 1756.1,382.7 1758.2,380.2 1758.5,378.1 1760.2,376.4 1761.4,377.9 1764.0,379.2 1765.3,380.1 1766.4,382.7 1767.3,385.4 1767.3,387.4 1769.2,388.7 1769.4,391.7 1770.1,394.1 1770.6,396.3 1770.8,398.3 1772.1,400.2 1771.6,402.9 1772.0,404.7 1772.2,407.1 1773.5,410.1 1773.8,411.8 1774.0,414.2 1774.0,417.3 1774.1,420.1 1774.6,422.3 1775.3,424.2 1775.8,427.3 1775.4,430.0 1775.5,432.7 1776.2,434.4 1776.7,437.0 1776.3,439.9 1776.5,442.5 1777.0,444.7 1778.2,447.1 1778.2,449.3 1777.7,451.5 1778.2,454.7 1778.8,457.0 1779.6,459.0 1779.0,462.1 1779.0,463.8 1779.6,466.4 1779.8,469.1 1780.3,472.0 1780.0,474.5 1780.6,476.4 1781.3,479.0 1780.5,481.3 1781.3,484.7 1781.6,486.7 1781.2,488.7 1781.8,491.8 1781.6,494.4 1781.8,497.3 1782.3,498.9 1782.7,501.2 1782.4,504.1 1782.2,506.2 1783.0,508.6 1782.9,512.3 1782.6,514.1 1783.4,517.0 1783.6,520.0 1783.2,522.0 1783.5,524.3 1784.4,527.8 1784.4,529.5 1784.7,533.0 1784.5,535.6 1784.7,537.5 1784.4,540.0 1784.6,542.6 1785.6,545.5 1786.0,548.0 1785.5,550.3 1785.9,553.1 1786.2,554.9 1786.6,558.3 1786.7,560.6 1787.1,562.3 1788.0,565.4 1789.2,563.1 1788.8,560.9 1789.1,557.8 1790.1,556.0 1790.2,553.7 1790.9,551.1 1791.1,549.1 1791.4,546.4 1791.5,544.0 1791.1,540.9 1791.7,538.2 1792.3,535.6 1791.4,533.0 1792.7,530.7 1791.9,527.7 1792.0,525.9 1792.9,523.2 1793.2,519.9 1793.1,517.7 1793.5,515.8 1793.7,512.4 1793.7,510.9 1793.9,507.5 1793.1,505.0 1793.0,503.4 1794.1,500.6 1794.2,498.2 1793.7,494.9 1793.7,493.1 1794.0,490.0 1794.5,487.0 1794.5,484.7 1795.2,482.2 1794.9,480.3 1795.3,477.5 1795.7,473.9 1795.6,471.8 1796.1,469.2 1796.1,467.0 1795.7,464.9 1795.6,462.3 1795.8,458.9 1795.9,457.3 1797.0,453.9 1796.5,452.0 1797.0,449.1 1796.9,446.7 1797.5,443.9 1797.9,441.3 1797.3,439.1 1798.0,435.7 1798.4,433.1 1798.8,431.1 1799.1,428.7 1798.8,426.1 1799.1,424.4 1799.0,422.0 1799.1,418.9 1799.6,417.4 1800.2,414.4 1800.9,411.9 1800.7,409.8 1801.3,407.5 1801.5,404.6 1801.4,401.9 1802.3,400.0 1802.5,396.9 1802.5,395.3 1803.0,392.2 1803.2,390.7 1803.3,387.6 1803.7,385.9 1804.7,382.9 1804.2,380.6 1804.8,378.6 1804.7,375.7 1804.9,373.9 1805.7,370.2 1806.1,367.5 1805.6,365.9 1806.2,362.9 1805.9,359.6 1806.7,357.3 1806.8,355.5 1807.1,353.3 1808.6,351.4 1808.8,349.2 1809.5,346.2 1810.3,344.2 1811.2,342.5 1811.5,339.8 1813.4,337.1 1814.3,335.0 1816.7,332.6 1818.1,334.6 1819.7,336.2 1821.1,337.6 1823.0,339.2 1823.3,342.5 1824.3,344.8 1824.4,347.1 1825.2,349.8 1825.8,352.3 1827.0,354.2 1827.3,357.4 1827.6,359.6 1828.9,361.5 1829.0,364.2 1829.9,367.6 1830.2,369.1 1830.1,371.9 1830.0,374.1 1829.7,376.7 1829.3,378.5 1830.2,380.6 1830.2,383.1 1830.7,385.2 1831.3,387.8 1830.5,390.0 1831.3,392.0 1831.7,394.9 1832.3,397.1 1832.0,399.4 1832.7,402.7 1832.7,404.2 1833.2,406.9 1832.7,409.0 1833.5,412.2 1833.5,414.2 1833.6,416.3 1834.3,418.9 1834.1,421.9 1834.5,423.9 1834.0,426.4 1834.0,429.2 1834.5,431.6 1834.6,433.5 1834.7,436.0 1834.9,437.9 1835.7,440.7 1835.3,443.1 1835.8,445.7 1836.2,448.6 1836.0,451.5 1836.8,453.1 1837.0,456.7 1837.1,458.4 1837.3,461.6 1836.5,463.5 1837.9,466.9 1837.2,468.8 1837.3,471.6 1838.2,474.2 1837.6,477.4 1838.5,479.0 1838.8,482.0 1838.8,484.5 1839.1,487.1 1839.2,488.9 1839.1,491.8 1839.3,494.2 1839.7,496.8 1839.1,498.9 1839.1,501.7 1839.1,504.2 1839.2,506.7 1839.7,509.2 1840.3,511.1 1840.3,514.1 1840.1,516.8 1840.5,519.0 1840.1,522.2 1839.7,524.3 1840.5,526.1 1840.5,529.3 1841.0,531.4 1841.2,534.1 1840.8,537.0 1840.4,539.3 1841.3,541.3 1841.7,543.9 1841.4,546.5 1841.9,548.6 1841.6,551.4 1841.9,554.3 1841.8,556.8 1842.0,558.9 1842.0,561.4 1843.0,564.1 1843.0,566.2 1842.6,568.6 1843.0,571.5 1843.4,573.3 1843.5,576.8 1843.5,578.2 1843.3,580.7 1843.4,584.3 1844.0,586.4 1844.4,589.2 1844.3,591.3 1844.7,593.8 1845.0,596.1 1844.9,598.4 1845.5,600.9 1845.5,602.5 1845.7,605.6 1847.1,607.7 1846.8,610.3 1848.0,607.5 1847.9,604.7 1848.8,602.2 1849.4,600.1 1850.6,596.9 1850.8,594.4 1850.6,593.0 1851.5,590.8 1851.7,587.4 1852.0,585.8 1853.0,583.9 1852.8,580.9 1852.7,578.8 1853.2,575.9 1853.1,573.1 1854.1,570.6 1854.6,568.0 1854.7,565.4 1853.9,563.5 1854.3,560.9 1854.5,557.5 1855.3,555.7 1855.6,553.1 1854.9,550.4 1855.8,547.7 1856.2,544.9 1856.4,543.0 1855.4,539.7 1856.3,538.2 1855.8,535.1 1856.7,532.4 1857.0,530.3 1856.2,527.7 1857.0,525.3 1857.3,522.5 1857.6,520.2 1857.5,518.1 1857.3,515.3 1857.8,513.5 1857.9,510.5 1857.4,507.4 1858.3,505.7 1858.2,502.8 1858.0,501.0 1858.3,498.1 1857.8,495.4 1858.6,492.8 1858.4,490.6 1858.9,488.3 1858.3,484.7 1858.5,482.6 1859.0,480.4 1859.6,476.9 1859.7,475.2 1859.9,472.3 1859.4,470.0 1860.2,467.2 1860.5,464.2 1859.7,461.9 1860.7,458.8 1860.9,457.1 1860.4,454.1 1861.2,451.3 1860.8,448.4 1861.6,446.5 1861.5,443.0 1862.1,441.2 1861.6,438.4 1862.6,436.2 1862.3,433.1 1862.6,430.1 1862.3,427.5 1863.1,425.1 1863.1,422.5 1863.3,419.6 1862.9,418.0 1863.5,414.3 1864.0,412.5 1863.5,409.8 1863.9,407.2 1863.7,404.2 1865.0,402.7 1864.5,399.8 1864.4,397.6 1864.7,395.3 1865.3,392.7 1865.7,389.5 1864.7,386.8 1865.0,384.0 1864.9,381.9 1866.1,379.1 1866.3,377.0 1865.3,374.0 1865.9,370.7 1866.7,368.3 1866.3,366.2 1866.9,363.7 1866.4,360.9 1866.2,359.0 1867.5,355.7 1866.6,353.4 1867.3,351.9 1868.3,349.5 1867.6,347.1 1868.7,344.6 1869.3,341.5 1868.6,340.0 1870.6,337.6 1870.8,335.2 1872.4,332.3 1872.9,330.1 1873.8,332.7 1875.1,334.7 1876.2,337.6 1877.2,340.0 1877.9,341.5 1879.2,344.0 1879.7,347.2 1880.1,348.6 1880.0,350.9 1881.1,354.1 1881.2,356.0 1881.3,358.8 1882.2,360.9 1882.5,362.7 1883.1,365.6 1884.4,367.3 1886.0,365.6 1886.7,363.6 1887.7,362.5 1888.2,359.2 1888.8,356.9 1889.7,354.2 1890.2,351.6 1890.5,349.9 1890.1,347.1 1890.6,344.4 1890.9,342.0 1892.3,340.3 1892.5,336.6 1892.0,334.9 1892.0,332.0 1892.5,329.6 1892.5,326.8 1893.1,323.3 1893.0,321.5 1894.2,318.2 1894.8,316.6 1895.1,313.7 1895.6,310.8 1897.0,308.9 1896.9,305.7 1897.4,303.8 1898.6,300.9 1898.8,298.8 1900.1,296.6 1900.6,293.3 1900.6,291.5 1902.1,289.2 1902.8,287.1 1904.3,284.9 1906.0,282.2 1906.1,280.5 1908.5,279.2 1910.2,277.2 1912.7,276.1 1913.8,278.0 1916.1,279.4 1917.9,281.8 1919.3,283.3 1920.9,286.0 1922.5,287.3 1923.7,289.3 1926.1,288.9 1928.5,289.9 1930.4,289.4 1932.8,289.4 1934.1,288.1 1936.2,285.3 1937.9,283.5 1940.6,281.3 1941.6,280.3 1943.6,277.6 1945.9,276.4 1947.7,274.7 1949.7,274.3 1953.0,272.7 1954.7,272.6 1957.0,270.5 1958.4,268.8 1960.3,267.1 1961.9,269.0 1962.4,272.1 1962.7,274.6 1964.4,276.5 1964.6,279.4 1965.5,281.3 1966.8,284.1 1966.8,285.8 1967.5,288.4 1969.0,291.1 1969.6,293.5 1970.2,294.9 1970.5,298.3 1971.7,299.8 1971.8,302.6 1973.6,304.3 1975.1,306.1 1977.5,307.4 1979.6,308.6 1982.8,308.5 1985.2,308.4 1986.2,311.1 1985.9,313.4 1986.9,316.1 1987.7,318.5 1989.2,321.2 1988.9,323.4 1989.5,326.3 1989.8,327.8 1990.7,329.9 1991.1,333.3 1991.5,334.8 1991.9,337.4 1992.0,339.2 1992.3,341.8 1993.0,344.1 1993.1,346.2 1993.9,349.5 1994.3,351.5 1994.7,353.4 1995.1,356.0 1995.3,358.5 1995.3,360.7 1995.2,363.1 1995.7,365.8 1996.0,367.9 1995.9,371.5 1995.9,373.6 1996.4,375.8 1997.2,378.4 1997.3,380.5 1996.8,383.7 1997.6,385.1 1997.9,387.9 1998.7,389.8 1998.4,393.2 1999.4,394.5 1999.3,397.1 2000.8,399.8 2002.2,402.3 2002.9,404.6 2004.3,406.9 2005.5,409.4 2007.3,412.1 2008.1,414.5 2008.3,416.8 2009.4,418.9 2010.3,421.4 2010.0,424.0 2010.9,426.2 2010.8,428.4 2011.2,431.2 2011.9,433.1 2013.1,435.4 2013.7,438.2 2015.2,440.2 2016.1,437.5 2017.4,435.1 2019.1,433.3 2019.9,431.4 2020.8,428.8 2022.0,426.5 2021.9,423.3 2023.4,420.3 2022.9,418.5 2024.1,416.4 2025.1,413.5 2026.0,411.0 2026.0,408.7 2026.5,405.8 2027.4,403.3 2028.4,401.2 2029.3,398.7 2030.5,397.2 2032.2,395.5 2034.0,394.2 2035.7,391.7 2038.0,390.5 2039.8,388.0 2041.1,385.3 2041.2,384.0 2042.4,381.2 2042.3,379.3 2043.7,377.0 2044.7,374.8 2044.7,371.6 2045.2,369.6 2046.2,366.7 2046.5,364.8 2047.7,362.0 2048.9,359.9 2048.5,357.2 2050.0,354.6 2050.6,351.8 2050.6,350.3 2051.4,347.5 2051.4,344.7 2052.3,341.9 2052.9,339.6 2053.8,337.1 2053.6,334.0 2053.7,332.2 2054.1,328.9 2054.7,326.8 2055.9,324.4 2056.4,321.2 2056.0,319.7 2057.0,317.4 2057.7,314.4 2058.2,312.0 2059.6,310.3 2059.5,307.8 2060.2,305.1 2061.9,303.4 2063.1,301.0 2063.8,298.5 2064.3,297.1 2066.4,294.1 2067.5,292.5 2067.9,290.0 2069.9,287.6 2070.1,284.7 2069.6,282.7 2069.6,279.7 2070.6,277.3 2070.7,274.4 2070.2,272.0 2070.4,270.2 2072.5,268.7 2074.3,267.6 2076.7,266.5 2077.2,263.8 2079.0,261.7 2079.2,259.1 2080.1,256.8 2080.7,254.9 2081.7,251.9 2082.7,249.4 2082.8,247.9 2083.3,245.0 2084.7,243.1 2085.9,241.5 2088.6,240.6 2090.9,239.3 2093.4,239.7 2095.2,239.6 2096.2,242.2 2097.5,244.7 2099.0,246.3 2099.7,248.8 2100.9,251.6 2102.1,253.7 2103.9,255.9 2105.6,258.1 2106.9,260.3 2108.0,262.1 2108.3,264.5 2109.8,267.3 2110.2,269.8 2110.7,272.8 2111.2,275.4 2112.9,275.4 2115.4,275.2 2116.6,273.0 2116.8,271.3 2117.8,268.9 2118.5,265.6 2118.4,263.1 2120.8,262.4 2122.3,260.6 2123.4,263.2 2123.7,265.6 2124.6,267.5 2125.1,269.1 2126.4,272.4 2126.5,274.0 2126.0,276.7 2126.6,279.4 2127.2,281.5 2127.5,284.8 2128.3,287.0 2129.8,288.9 2130.4,290.5 2132.0,288.2 2132.4,286.5 2134.4,283.6 2134.7,282.0 2136.8,279.6 2137.9,278.1 2140.0,276.8 2142.7,278.9 2144.2,280.3 2147.1,281.9 2149.8,279.8 2151.2,279.1 2152.7,276.9 2154.2,274.4 2155.5,272.0 2156.1,269.1 2156.8,267.0 2156.9,265.1 2156.8,262.4 2157.0,259.9 2158.2,256.9 2158.3,255.2 2158.7,252.2 2158.6,249.2 2159.0,247.1 2159.1,244.5 2159.3,242.4 2160.1,239.4 2159.9,237.2 2160.4,235.2 2160.5,232.0 2161.4,229.3 2161.2,227.0 2161.8,224.8 2161.9,221.8 2161.9,219.8 2161.9,217.6 2162.5,214.3 2162.0,212.1 2162.0,209.2 2162.3,206.9 2163.0,204.7 2162.4,202.1 2163.5,199.6 2163.7,196.8 2164.2,195.4 2165.7,191.8 2166.2,190.4 2166.7,186.8 2167.3,185.0 2167.7,182.9 2168.3,181.1 2169.8,178.5 2172.1,176.5 2173.3,174.0 2175.2,171.7 2177.4,170.5 2178.4,167.4 2180.3,166.0 2182.1,162.9 2184.9,164.4 2187.9,164.6 2189.7,165.7 2192.4,165.6 2195.2,166.1 2196.6,163.7 2196.8,161.9 2198.6,159.9 2199.8,157.8 2200.6,154.8 2200.6,151.9 2200.9,149.9 2201.1,147.6 2201.7,144.8 2203.2,141.9 2202.5,140.0 2203.1,138.0 2203.3,135.7 2204.7,133.3 2204.7,130.4 2205.4,128.3 2205.5,125.7 2207.5,124.1 2210.0,122.4 2211.2,119.7 2213.5,118.5 2215.4,116.5 2217.1,115.2 2220.0,115.0 2223.0,113.8 2225.6,113.0 2227.4,111.8 2229.0,110.6 2231.9,109.2 2233.1,112.4 2234.2,114.6 2235.3,116.7 2237.5,118.2 2238.1,120.9 2239.9,122.0 2241.7,124.2 2243.6,126.3 2245.5,128.5 2247.4,129.9 2248.6,133.1 2250.6,134.4 2252.4,136.9 2253.0,139.4 2254.0,141.9 2255.1,144.0 2255.8,146.4 2256.5,149.4 2256.7,151.7 2257.5,154.2 2260.9,155.9 2263.3,157.6 2265.0,159.4 2268.3,159.7 2269.3,162.4 2269.3,165.4 2270.7,167.5 2271.0,169.8 2271.8,171.5 2273.0,173.5 2273.4,176.3 2273.1,179.5 2273.4,182.2 2273.7,184.8 2273.7,187.4 2274.2,189.0 2274.1,191.8 2274.2,194.7 2274.4,196.6 2274.0,199.9 2274.7,202.4 2273.7,204.9 2273.9,207.3 2274.8,209.4 2275.1,212.6 2274.4,214.6 2274.7,217.9 2274.9,219.6 2274.4,222.1 2275.4,224.8 2275.2,227.4 2275.4,230.1 2274.9,233.3 2275.5,230.6 2276.1,228.4 2275.3,225.2 2275.6,222.9 2276.7,220.8 2275.9,217.6 2277.0,215.7 2276.7,213.0 2276.6,211.0 2277.1,208.6 2277.5,205.2 2277.4,202.9 2278.2,200.8 2277.4,197.9 2278.0,195.8 2278.4,193.2 2278.4,190.3 2278.8,188.2 2278.3,185.9 2279.7,182.9 2278.9,181.2 2279.1,183.2 2279.5,185.7 2279.7,188.6 2280.3,191.6 2279.3,193.6 2280.3,196.5 2280.4,198.8 2280.4,200.9 2280.1,204.0 2280.9,206.7 2280.8,208.4 2281.0,211.5 2280.8,213.8 2280.7,216.3 2280.9,218.2 2280.9,221.0 2281.8,223.7 2281.2,225.9 2281.1,228.6 2281.1,230.7 2282.1,233.7 2281.7,236.4 2281.6,233.4 2281.4,231.0 2281.8,229.0 2282.2,226.7 2282.0,224.2 2282.4,220.7 2281.9,218.8 2283.0,216.0 2282.8,213.5 2283.0,210.6 2282.6,209.0 2282.4,205.8 2282.2,203.1 2282.6,201.3 2282.6,198.4 2282.6,196.1 2283.5,193.6 2282.8,191.2 2283.8,188.5 2282.8,186.3 2283.8,183.2 2283.0,180.5 2283.6,178.8 2283.8,176.3 2283.4,178.0 2284.2,180.9 2284.0,183.4 2284.1,185.1 2284.3,187.5 2284.7,190.3 2284.8,193.1 2284.6,195.4 2284.5,198.4 2285.3,201.0 2284.9,203.0 2285.9,205.1 2285.3,207.3 2285.5,210.5 2285.6,213.0 2286.2,215.2 2286.5,217.6 2286.8,220.2 2286.5,222.8 2286.6,225.2 2287.4,227.7 2287.0,230.2 2288.0,232.3 2287.3,234.8 2288.3,236.8 2287.3,239.7 2288.3,237.6 2288.3,235.4 2288.4,232.7 2288.4,229.5 2288.8,227.1 2289.5,225.2 2289.3,223.3 2289.8,219.9 2289.9,218.2 2291.0,215.1 2290.5,218.3 2291.3,221.1 2292.2,223.2 2292.6,225.9 2293.3,227.8 2294.5,230.0 2294.8,232.5 2295.3,235.4 2296.1,237.5 2296.2,235.5 2297.1,233.8 2297.1,230.5 2297.1,228.2 2297.7,225.8 2297.9,224.1 2298.8,221.1 2299.7,218.7 2300.1,220.9 2301.3,224.0 2301.4,226.2 2303.0,227.9 2303.2,230.5 2304.8,232.4 2304.9,230.5 2304.9,228.1 2305.8,225.2 2306.2,223.0 2306.4,221.1 2306.0,218.7 2307.3,215.6 2306.5,213.0 2308.0,210.4 2308.3,208.2 2310.1,206.4 2311.4,205.4 2313.3,203.2 2314.8,206.1 2315.3,208.8 2314.8,210.3 2316.2,213.3 2315.8,215.5 2316.4,217.9 2316.5,219.9 2317.9,222.7 2318.1,224.9 2317.9,227.4 2318.1,229.9 2318.7,232.4 2319.1,235.3 2318.6,237.6 2319.4,240.7 2319.5,242.3 2320.5,245.6 2320.5,247.4 2320.1,249.8 2320.3,252.0 2321.1,254.9 2321.4,257.3 2321.1,260.2 2322.1,262.5 2322.3,265.2 2323.1,267.8 2322.9,269.8 2322.6,272.2 2323.5,274.7 2323.0,277.2 2322.9,280.4 2322.8,282.4 2324.1,284.4 2323.9,287.0 2323.6,289.3 2323.6,292.5 2324.6,295.1 2323.8,297.3 2324.3,299.7 2324.8,301.8 2325.4,303.9 2325.3,307.4 2325.2,309.5 2326.0,311.5 2325.7,314.6 2325.6,317.0 2325.8,319.3 2326.2,321.9 2326.0,324.3 2326.5,326.3 2326.7,328.8 2327.2,331.5 2327.2,334.1 2327.1,336.2 2326.8,339.5 2327.4,341.5 2327.6,344.3 2327.4,346.0 2328.2,348.8 2328.1,351.7 2328.6,354.2 2327.7,356.1 2328.8,359.1 2328.1,360.8 2328.4,363.2 2328.7,366.5 2329.0,368.5 2328.6,371.0 2329.8,373.9 2329.3,376.2 2329.8,379.0 2329.2,381.5 2329.6,383.8 2329.5,386.2 2329.8,388.7 2329.5,391.0 2330.3,393.4 2330.0,396.7 2330.2,398.8 2330.3,401.9 2330.2,404.2 2331.3,406.2 2330.9,409.5 2331.2,411.5 2330.7,414.1 2331.2,417.0 2331.2,419.2 2331.7,422.2 2331.5,424.2 2331.9,427.4 2331.6,430.0 2332.3,431.8 2332.4,434.3 2331.8,437.3 2332.3,439.6 2332.5,442.5 2332.9,444.0 2332.9,447.1 2332.8,450.1 2332.9,452.2 2333.6,454.7 2333.2,457.3 2333.7,460.0 2333.7,462.2 2333.0,465.1 2333.7,467.7 2334.1,469.5 2333.5,471.9 2334.4,474.5 2333.6,477.8 2334.3,479.5 2334.5,482.8 2334.4,484.6 2334.8,487.5 2334.8,490.8 2335.2,493.2 2334.5,495.0 2335.0,497.2 2335.7,500.0 2335.0,502.6 2335.1,505.8 2335.5,507.9 2335.5,509.9 2335.5,513.4 2336.2,515.9 2335.6,517.7 2335.4,520.6 2335.9,523.1 2336.1,525.8 2336.1,528.6 2335.9,531.3 2336.4,532.8 2336.2,535.9 2336.4,538.5 2336.4,540.7 2337.1,543.2 2337.0,546.4 2337.0,548.5 2337.5,551.0 2337.5,553.1 2337.0,556.4 2336.7,559.2 2336.8,561.4 2337.0,564.3 2337.5,566.7 2337.5,569.1 2337.8,571.2 2337.4,574.4 2337.4,577.0 2337.6,578.6 2337.6,582.0 2338.8,584.1 2338.5,586.4 2339.0,589.5 2338.2,591.3 2339.0,593.8 2339.2,596.7 2338.7,599.6 2338.9,602.1 2338.8,605.0 2339.1,607.5 2339.1,610.0 2340.2,612.1 2339.2,614.6 2340.0,616.9 2340.0,619.3 2340.1,622.6 2340.2,625.1 2339.9,627.8 2340.0,630.5 2341.2,633.1 2340.8,634.9 2340.7,638.1 2341.0,640.9 2340.6,643.0 2341.7,645.7 2341.4,647.7 2341.0,650.5 2342.1,653.8 2341.4,656.5 2341.4,653.5 2342.7,650.6 2342.9,648.4 2342.1,645.4 2342.8,642.7 2343.4,640.0 2343.7,637.6 2343.0,635.3 2343.3,632.7 2344.3,630.1 2344.1,626.9 2344.3,624.4 2344.7,621.9 2344.7,619.6 2344.6,617.5 2344.6,614.3 2345.6,612.0 2345.7,610.1 2345.4,606.7 2345.1,605.0 2345.3,602.0 2346.0,599.0 2346.0,596.5 2346.3,594.4 2346.2,591.5 2346.4,588.9 2346.3,586.4 2347.3,584.2 2347.5,581.1 2347.7,579.1 2347.7,576.6 2347.7,573.7 2347.8,571.1 2347.3,568.4 2347.5,566.5 2347.4,564.4 2347.2,561.5 2347.5,559.0 2348.2,556.6 2347.3,553.6 2348.0,551.9 2347.4,549.0 2348.2,546.7 2347.9,544.2 2348.0,541.8 2347.5,539.3 2348.1,536.1 2347.7,533.4 2348.5,531.4 2347.9,528.5 2347.9,525.8 2348.1,523.5 2349.0,521.8 2348.8,518.6 2348.5,516.5 2349.1,513.9 2348.8,510.7 2348.8,509.0 2349.1,505.6 2349.0,503.4 2348.4,501.6 2349.1,498.8 2348.5,496.4 2349.5,494.0 2349.3,491.4 2349.4,488.6 2349.0,486.3 2349.5,483.9 2349.0,481.5 2349.3,478.9 2348.8,476.5 2349.7,473.1 2349.8,470.6 2349.1,468.3 2349.2,465.8 2350.1,463.6 2349.9,460.7 2350.0,458.7 2349.9,456.3 2350.2,453.2 2349.3,451.0 2350.3,448.1 2350.0,446.1 2350.3,442.6 2350.0,440.1 2349.6,438.6 2350.0,435.8 2350.1,433.0 2349.9,430.5 2350.7,428.3 2350.1,425.1 2350.1,423.4 2350.4,420.8 2350.9,417.6 2350.8,415.0 2351.0,412.7 2350.4,411.1 2350.5,407.7 2351.2,405.7 2351.3,402.9 2350.8,401.1 2350.9,398.6 2350.6,395.9 2350.7,393.1 2350.5,390.2 2351.8,388.1 2351.7,385.4 2351.2,382.8 2351.5,381.2 2351.5,378.2 2352.1,376.3 2351.9,372.9 2351.9,370.9 2352.4,368.3 2352.1,366.2 2351.9,363.6 2352.3,361.6 2352.2,358.5 2352.8,355.7 2352.7,354.0 2352.5,351.2 2352.8,349.3 2352.8,346.7 2352.1,343.7 2352.3,342.0 2353.3,338.6 2352.9,336.7 2352.3,334.0 2353.1,331.9 2352.6,329.6 2352.6,326.9 2352.8,324.9 2353.1,322.3 2353.1,319.4 2353.5,317.3 2353.2,314.4 2352.5,312.3 2353.3,310.1 2352.8,306.9 2353.0,305.3 2352.6,302.7 2352.6,299.8 2352.6,297.4 2353.2,295.8 2354.1,292.4 2353.5,290.9 2353.5,287.8 2354.0,285.1 2354.0,283.1 2354.3,281.4 2354.3,278.0 2355.3,275.9 2355.4,273.6 2355.4,270.6 2354.9,268.6 2355.4,265.8 2355.8,263.4 2355.5,260.4 2356.4,258.0 2355.8,255.6 2355.9,253.2 2355.8,250.7 2356.6,247.5 2357.2,244.9 2356.5,242.1 2357.1,240.3 2357.6,237.2 2358.2,234.2 2358.1,232.2 2359.3,229.5 2359.4,227.0 2359.5,224.5 2360.5,226.2 2360.7,229.1 2361.3,230.7 2362.6,233.5 2362.8,236.0 2363.8,237.7 2363.8,240.0 2364.5,242.9 2365.7,245.5 2366.0,247.5 2366.6,249.7 2367.4,252.8 2367.8,254.6 2368.1,257.8 2368.3,260.5 2369.2,262.8 2369.6,265.2 2370.1,267.1 2370.3,270.2 2370.7,272.2 2370.5,275.1 2371.5,277.2 2370.9,279.7 2370.9,282.7 2372.1,285.4 2371.5,287.7 2371.3,290.4 2371.7,291.9 2372.2,294.6 2372.0,297.0 2372.3,300.1 2372.9,301.9 2373.0,304.5 2372.4,307.7 2372.7,309.8 2373.1,312.2 2373.5,314.7 2373.7,317.9 2373.5,319.4 2373.9,321.9 2373.7,324.9 2373.3,327.7 2374.3,330.1 2373.9,332.5 2374.2,334.7 2374.6,338.1 2374.6,340.6 2374.1,343.1 2373.8,345.0 2373.9,347.4 2374.7,350.3 2374.4,352.3 2374.2,354.9 2374.4,357.1 2374.9,360.0 2374.6,362.1 2375.0,364.6 2374.6,367.6 2375.1,370.6 2375.2,373.0 2375.5,375.3 2375.4,372.0 2374.9,369.4 2375.8,367.8 2375.6,364.7 2375.4,362.1 2375.8,360.6 2375.5,357.0 2375.5,354.8 2376.5,352.9 2376.1,349.5 2375.8,347.1 2376.7,345.0 2377.0,343.0 2376.9,340.0 2377.1,337.1 2376.3,335.1 2376.9,332.2 2376.7,329.4 2377.6,327.8 2377.7,325.6 2377.2,322.8 2377.2,320.4 2377.9,317.1 2377.0,314.7 2377.7,312.4 2377.1,310.4 2378.2,307.5 2377.4,305.5 2378.0,302.0 2377.9,300.1 2378.6,297.5 2378.4,294.6 2378.1,293.0 2378.3,289.5 2378.7,287.1 2378.3,284.9 2378.8,282.7 2379.1,279.9 2378.4,277.8 2378.5,275.0 2379.2,272.7 2379.9,269.7 2380.1,267.7 2380.2,264.6 2381.0,262.6 2380.3,259.7 2381.7,257.2 2381.3,255.3 2382.1,252.7 2382.3,249.4 2381.6,248.1 2382.6,244.5 2381.8,242.3 2383.0,239.8 2382.8,238.2 2382.9,235.7 2382.6,232.3 2382.4,230.6 2382.6,228.4 2383.5,225.0 2383.7,222.5 2383.5,220.0 2384.0,218.4 2384.2,214.9 2384.3,213.1 2384.4,210.6 2384.3,208.2 2384.6,205.1 2383.8,203.2 2384.2,200.6 2384.0,198.5 2384.2,196.2 2385.2,193.3 2384.5,191.0 2384.8,188.3 2384.8,186.5 2385.4,183.3 2385.0,181.3 2386.1,178.9 2385.4,175.8 2385.9,173.7 2385.9,171.0 2387.1,168.7 2386.1,165.3 2386.5,163.5 2387.3,160.8 2387.3,158.1 2387.7,155.9 2388.3,153.5 2388.3,151.1 2388.6,148.4 2387.8,145.8 2389.0,143.0 2389.2,140.1 2389.5,137.9 2389.6,135.2 2389.4,132.8 2389.8,130.0 2390.3,128.6 2390.9,126.0 2391.3,123.4 2391.9,120.8 2391.4,117.7 2391.9,114.9 2392.0,113.5 2393.2,110.3 2393.3,108.3 2394.7,110.4 2395.4,111.7 2397.0,114.0 2398.0,116.2 2399.0,119.0 2399.8,120.5 2400.7,123.0 2401.3,125.4 2401.6,128.2 2401.9,130.0 2401.3,132.7 2402.4,134.9 2401.9,138.3 2403.1,140.1 2402.7,143.2 2403.1,145.8 2403.3,147.8 2402.9,150.0 2403.5,152.8 2403.1,156.2 2403.7,158.3 2403.8,160.9 2404.0,163.0 2403.4,165.3 2403.4,168.2 2403.7,170.4 2404.2,174.0 2404.6,175.7 2404.8,178.1 2404.1,180.8 2404.5,183.7 2404.6,186.2 2404.2,188.9 2404.6,191.3 2404.2,193.7 2404.5,196.2 2405.2,198.5 2404.6,200.1 2404.6,203.7 2404.6,205.9 2405.1,208.3 2404.7,210.2 2404.6,213.6 2405.0,215.7 2405.3,217.7 2404.7,219.9 2405.7,222.5 2405.8,225.2 2405.6,227.4 2405.7,230.0 2405.2,232.8 2405.0,235.0 2405.9,237.5 2405.4,240.5 2405.3,242.3 2405.4,245.0 2405.6,247.8 2405.8,250.5 2405.4,252.8 2406.4,254.7 2405.5,257.4 2405.6,259.9 2406.4,262.0 2405.8,264.9 2405.9,267.1 2406.2,269.4 2405.8,272.2 2406.3,275.4 2406.5,276.9 2406.1,280.2 2406.5,282.9 2407.0,285.4 2406.0,288.0 2406.5,289.6 2406.1,292.9 2406.2,294.4 2406.3,297.9 2406.5,300.2 2406.1,302.4 2406.4,304.6 2406.8,307.3 2406.2,310.5 2406.7,312.1 2406.1,315.1 2406.7,316.9 2406.7,320.3 2406.8,322.1 2406.8,325.1 2407.0,327.0 2407.2,330.5 2407.1,332.9 2406.7,335.5 2406.5,337.2 2407.0,340.5 2406.4,342.2 2406.4,344.9 2406.5,347.1 2407.3,350.1 2407.5,352.4 2407.2,354.4 2407.5,357.2 2407.0,360.0 2407.5,362.5 2407.6,365.1 2406.7,367.9 2406.6,370.6 2406.9,372.2 2407.6,374.8 2406.9,377.3 2407.2,379.4 2406.8,382.1 2407.4,384.4 2407.1,387.2 2406.9,390.1 2407.3,392.1 2406.7,394.5 2407.6,397.1 2406.6,400.0 2407.1,403.0 2406.5,404.7 2406.6,407.6 2406.9,409.9 2407.5,412.7 2407.4,415.5 2406.7,418.0 2406.9,419.5 2407.5,422.0 2406.4,424.7 2406.7,428.1 2407.4,429.9 2407.0,432.9 2407.4,435.2 2407.0,437.0 2406.7,440.2 2407.1,442.9 2407.5,445.6 2406.6,447.0 2407.5,450.1 2406.6,452.7 2406.7,454.7 2406.8,457.5 2407.2,459.5 2407.3,462.6 2407.0,465.2 2407.4,466.9 2407.0,470.2 2407.3,472.7 2406.6,475.6 2407.3,477.2 2406.9,480.5 2406.6,482.4 2407.6,485.5 2406.7,487.8 2406.8,490.2 2407.3,492.1 2406.7,494.7 2406.7,496.9 2406.6,499.9 2406.9,502.0 2407.1,505.5 2407.1,507.3 2407.2,509.9 2406.6,512.5 2406.4,515.2 2406.6,517.3 2407.6,520.3 2407.4,522.7 2407.2,525.2 2407.6,527.1 2407.3,529.8 2406.7,532.9 2407.1,535.4 2407.5,537.6 2406.6,539.4 2407.0,542.8 2406.7,544.5 2406.4,547.1 2407.2,549.4 2406.7,552.2 2407.3,555.6 2406.4,557.0 2407.5,560.6 2406.6,562.3 2407.0,564.8 2406.9,567.5 2406.7,569.5 2406.5,572.1 2406.5,575.1 2407.2,577.2 2407.4,580.3 2406.8,582.5 2406.6,585.5 2407.1,587.0 2406.6,590.2 2406.9,592.8 2406.7,595.4 2407.4,592.0 2407.2,589.6 2407.4,587.9 2407.6,584.7 2406.8,582.7 2407.4,579.6 2407.0,577.6 2406.9,575.2 2407.2,572.2 2407.4,570.0 2407.8,566.9 2407.9,564.7 2407.4,562.7 2408.0,560.1 2408.3,557.1 2407.6,555.2 2407.6,552.1 2407.6,550.3 2408.4,547.8 2408.6,545.4 2407.9,542.3 2408.4,539.5 2408.3,537.0 2407.7,535.0 2407.9,533.0 2408.8,530.0 2408.0,527.0 2408.5,525.0 2408.3,522.8 2408.6,520.3 2408.1,517.0 2408.5,515.0 2408.4,512.7 2408.4,509.8 2408.8,507.8 2409.2,504.8 2408.9,503.0 2409.5,500.1 2408.5,497.4 2409.2,494.7 2408.6,493.1 2409.7,489.6 2409.2,487.6 2409.0,484.5 2409.6,482.8 2409.3,479.5 2409.3,477.0 2410.0,474.5 2409.3,472.8 2409.1,469.5 2409.1,467.1 2409.7,465.4 2409.3,462.1 2410.1,459.9 2409.7,457.0 2409.6,455.6 2409.5,452.2 2410.3,450.5 2410.5,447.5 2410.6,445.1 2409.8,442.5 2410.4,440.3 2409.7,437.1 2410.7,434.5 2410.6,432.3 2410.0,429.7 2410.3,428.1 2409.9,425.4 2410.2,422.1 2410.7,419.8 2410.1,417.4 2410.9,415.4 2410.6,411.9 2410.8,410.1 2411.0,408.0 2410.4,405.4 2411.0,402.2 2410.5,399.8 2410.5,397.4 2410.3,394.7 2411.3,392.4 2411.0,390.5 2411.1,387.2 2411.4,385.4 2411.5,382.8 2411.2,380.4 2410.7,377.7 2410.9,375.4 2410.6,372.5 2410.9,370.4 2410.9,367.9 2411.6,365.5 2410.7,363.0 2411.5,360.2 2411.4,357.0 2411.7,355.1 2411.2,352.3 2411.7,350.3 2411.8,347.2 2411.2,344.7 2411.0,342.3 2410.9,340.4 2411.2,337.0 2411.0,335.3 2411.2,332.5 2411.5,330.4 2412.2,327.3 2411.8,325.5 2411.7,323.0 2412.0,319.8 2412.2,317.6 2411.3,315.1 2412.2,312.5 2411.8,309.9 2412.4,307.7 2411.6,304.8 2411.8,303.1 2412.2,299.5 2412.5,296.9 2412.2,294.9 2412.4,292.4 2411.7,290.0 2412.6,287.8 2412.1,284.7 2412.6,282.9 2412.0,280.5 2412.9,277.4 2412.2,275.3 2412.9,272.1 2412.2,269.8 2412.8,267.1 2412.6,265.0 2412.8,262.1 2413.1,260.6 2412.7,257.9 2412.3,255.5 2412.8,252.8 2413.2,249.8 2413.3,247.1 2412.2,245.0 2413.3,243.0 2413.4,240.0 2413.4,237.6 2412.5,235.2 2413.4,232.4 2413.2,229.7 2412.8,227.4 2413.1,225.0 2412.7,221.9 2413.0,220.3 2413.5,217.2 2413.0,215.0 2412.9,212.6 2413.8,209.6 2413.5,207.8 2413.7,205.3 2413.7,202.2 2413.9,200.5 2413.0,198.0 2413.5,194.5 2413.1,192.9 2413.8,189.6 2413.6,187.7 2414.3,184.8 2414.1,182.2 2413.4,179.6 2413.7,177.6 2413.6,174.6 2413.6,172.0 2413.6,169.8 2414.0,167.1 2414.0,164.9 2414.6,167.5 2414.6,170.0 2413.8,172.6 2413.8,174.6 2413.8,177.7 2414.9,179.9 2414.2,182.4 2414.3,185.2 2414.4,187.1 2415.0,190.1 2414.0,192.9 2414.9,194.8 2414.9,198.0 2414.7,199.9 2414.6,202.6 2415.1,205.3 2415.5,207.1 2414.8,210.4 2415.4,212.6 2415.3,214.8 2415.7,217.6 2415.1,219.6 2414.8,223.0 2415.7,224.4 2415.2,227.5 2415.4,229.8 2416.0,232.3 2415.6,235.5 2415.8,237.5 2415.5,239.9 2415.9,242.8 2415.5,244.8 2415.7,247.3 2416.4,250.0 2415.7,252.3 2416.4,254.6 2416.3,256.9 2415.7,259.5 2416.5,262.1 2415.9,264.5 2416.0,267.8 2416.6,270.5 2416.9,272.6 2417.0,274.5 2417.0,277.4 2416.2,280.3 2417.0,282.4 2416.2,285.4 2417.0,287.6 2417.3,289.4 2416.3,292.0 2416.3,295.2 2417.1,297.0 2416.6,299.6 2417.2,302.7 2417.7,304.8 2417.8,307.4 2417.1,309.7 2417.0,313.0 2418.0,315.2 2417.1,317.1 2417.1,319.8 2417.9,321.9 2417.7,325.1 2417.2,327.3 2418.2,330.0 2417.9,332.8 2418.1,334.7 2417.9,337.9 2418.6,340.4 2418.3,341.9 2417.9,344.7 2418.6,346.7 2418.8,350.2 2418.5,351.7 2418.9,354.7 2418.8,357.4 2419.0,359.7 2419.3,362.8 2419.3,364.9 2418.7,367.1 2418.7,370.2 2419.4,372.6 2419.5,375.3 2419.4,377.0 2419.6,379.4 2419.4,381.8 2419.8,384.7 2419.2,387.7 2419.0,390.2 2419.9,391.8 2420.0,394.8 2420.2,397.3 2419.7,400.2 2419.4,402.5 2419.5,404.4 2419.6,407.6 2420.0,409.9 2419.9,412.4 2420.4,414.1 2420.3,417.4 2420.0,419.8 2420.2,421.9 2421.0,425.1 2421.2,427.0 2420.7,429.9 2421.0,432.0 2421.2,434.4 2421.4,437.0 2420.5,439.8 2420.6,442.2 2420.5,440.1 2421.2,437.3 2420.7,434.7 2421.1,431.7 2421.6,429.0 2421.3,426.6 2421.8,425.0 2420.9,422.0 2421.4,419.8 2421.8,416.9 2422.1,414.2 2421.2,412.5 2421.2,409.2 2421.7,406.9 2421.4,405.1 2421.8,402.5 2421.6,400.1 2421.6,397.6 2422.1,395.2 2422.4,392.3 2422.1,390.1 2422.1,386.7 2422.7,385.1 2422.5,382.5 2422.0,379.7 2422.8,377.8 2422.9,374.3 2422.7,372.3 2422.4,369.4 2422.1,367.2 2422.6,364.5 2422.5,362.3 2423.1,359.9 2422.4,357.8 2422.7,355.4 2423.5,351.9 2423.0,350.4 2422.9,347.4 2422.8,344.3 2422.8,341.9 2422.9,340.0 2423.3,337.9 2423.5,334.7 2423.9,332.5 2423.4,330.3 2423.6,327.2 2423.6,324.7 2424.1,322.1 2424.1,319.4 2423.0,317.5 2423.3,315.0 2423.3,312.9 2424.0,310.2 2424.4,308.1 2424.1,305.2 2423.3,302.0 2423.9,300.6 2423.8,297.6 2423.5,294.9 2424.6,292.6 2424.5,289.4 2423.8,287.1 2424.6,284.5 2424.8,282.2 2424.7,280.0 2424.1,278.1 2424.2,275.2 2423.8,272.9 2425.0,269.5 2424.7,267.2 2424.0,264.8 2424.7,263.0 2425.1,260.6 2424.7,257.7 2424.2,255.3 2424.7,252.3 2425.1,249.7 2424.3,247.1 2424.3,245.1 2425.1,242.1 2424.8,240.1 2424.9,237.4 2424.9,234.4 2424.4,232.4 2424.6,230.3 2424.7,227.9 2424.7,224.5 2425.0,222.4 2424.9,220.3 2424.8,217.7 2425.5,214.9 2425.2,213.0 2425.3,209.6 2424.7,207.0 2425.1,204.5 2425.5,202.4 2425.1,200.0 2425.9,197.2 2425.0,194.8 2425.2,193.0 2425.7,189.9 2425.1,187.0 2425.1,185.4 2425.7,182.1 2425.8,179.5 2425.6,177.3 2425.2,175.3 2426.0,172.5 2425.3,170.2 2425.7,167.7 2425.3,165.5 2425.2,162.2 2425.7,159.6 2425.4,157.7 2426.5,154.8 2425.7,152.7 2425.7,149.9 2426.3,147.4 2425.7,144.5 2426.3,143.1 2426.8,139.5 2426.3,137.5 2426.0,135.2 2426.5,132.9 2426.3,130.5 2427.0,127.5 2426.2,125.0 2426.3,122.7 2427.0,120.1 2427.4,117.0 2427.2,115.4 2426.5,112.3 2426.5,110.1 2427.4,107.3 2427.4,104.8 2427.5,102.2 2427.9,99.9 2426.8,97.0 2427.7,95.4 2427.7,92.1 2428.0,90.3 2427.2,87.4 2427.9,84.4 2427.3,82.3 2428.3,80.6 2427.7,78.0 2428.3,75.4 2428.1,78.1 2428.3,80.5 2428.2,82.1 2428.2,85.0 2428.0,87.3 2428.3,90.1 2427.9,92.2 2428.3,95.0 2428.3,97.7 2428.0,100.0 2428.2,102.8 2428.7,105.3 2428.5,107.2 2429.1,110.0 2428.5,112.2 2428.5,115.3 2429.1,117.5 2429.0,119.7 2428.7,122.3 2428.6,124.8 2429.1,127.8 2428.5,129.7 2429.3,132.7 2429.2,135.2 2429.2,137.2 2428.5,139.8 2428.5,143.1 2429.1,145.2 2429.7,147.9 2428.9,149.8 2428.8,152.9 2429.6,155.0 2429.2,157.2 2429.3,160.3 2429.9,162.9 2429.9,164.9 2429.4,167.3 2430.1,169.6 2429.1,172.2 2430.1,175.4 2429.4,177.9 2430.1,179.9 2429.4,182.8 2429.6,184.5 2430.3,187.4 2429.7,190.1 2429.6,191.9 2429.8,194.9 2429.4,197.3 2430.3,199.8 2430.2,202.6 2429.7,204.4 2430.2,207.6 2429.8,209.6 2430.5,213.0 2429.8,215.1 2430.2,217.3 2429.5,219.8 2430.3,222.6 2430.1,224.5 2429.8,227.3 2430.1,229.8 2430.6,232.0 2430.8,234.7 2430.6,237.2 2430.3,239.9 2429.7,242.9 2430.6,244.7 2430.6,247.5 2430.8,249.5 2430.1,252.2 2430.4,255.3 2430.7,257.6 2430.2,260.4 2429.8,262.2 2430.6,264.9 2430.9,267.0 2430.3,269.7 2429.8,272.0 2429.9,274.8 2430.3,277.5 2430.2,280.2 2430.4,283.1 2430.0,285.0 2430.4,287.3 2430.9,289.7 2430.9,292.3 2430.3,295.1 2430.6,297.2 2430.0,300.5 2430.4,302.0 2430.7,305.0 2430.3,307.3 2431.0,309.8 2430.5,313.0 2430.4,314.9 2430.2,317.7 2430.8,319.9 2430.5,322.2 2431.0,324.9 2431.1,327.3 2430.9,329.4 2430.3,333.1 2430.9,335.2 2430.7,337.5 2430.4,339.6 2430.9,342.7 2430.5,345.2 2430.3,347.6 2430.4,350.0 2430.6,352.6 2430.4,355.0 2430.9,357.1 2430.6,360.2 2430.9,362.6 2431.2,365.1 2430.5,367.4 2431.3,370.1 2431.2,372.3 2430.8,375.6 2431.3,377.7 2430.5,380.1 2430.4,383.0 2431.5,385.3 2430.7,387.9 2430.6,390.4 2431.0,391.9 2431.5,394.9 2431.4,392.7 2431.1,390.4 2430.7,388.0 2430.9,384.4 2430.9,382.0 2430.6,380.1 2430.7,377.1 2431.0,374.7 2431.7,373.0 2431.7,370.6 2431.2,367.9 2431.0,365.5 2431.7,362.8 2431.0,359.5 2431.9,357.6 2431.5,355.4 2431.0,352.7 2431.4,350.3 2431.4,347.1 2432.1,344.7 2431.8,342.9 2431.3,340.2 2431.5,337.2 2431.3,335.5 2431.5,332.5 2431.7,329.4 2432.0,327.8 2432.2,324.8 2431.4,322.3 2432.0,320.2 2431.7,317.5 2431.4,315.5 2431.8,312.5 2432.2,309.6 2432.2,307.3 2432.3,304.5 2431.7,302.7 2432.0,299.9 2432.1,297.2 2432.0,294.4 2432.4,292.2 2432.5,290.1 2432.2,287.7 2431.7,285.3 2431.9,282.9 2432.5,280.2 2432.6,277.4 2432.4,275.5 2431.9,272.0 2432.2,270.0 2431.9,267.2 2432.8,264.9 2431.9,262.1 2432.5,259.6 2432.4,257.5 2432.4,255.0 2432.9,251.9 2433.0,249.6 2432.0,247.8 2432.6,245.0 2432.2,242.8 2432.4,240.3 2432.3,237.6 2432.8,234.8 2432.6,232.0 2432.9,230.2 2432.3,227.6 2433.0,224.5 2433.2,222.9 2432.3,219.7 2432.3,217.2 2432.3,215.0 2432.6,212.3 2432.9,209.8 2433.3,207.8 2432.5,204.7 2432.4,202.3 2432.5,200.2 2433.4,198.1 2432.7,194.4 2433.4,192.4 2433.6,189.9 2432.9,187.0 2433.7,185.0 2433.1,182.4 2433.5,180.4 2433.2,177.1 2433.1,175.5 2433.1,172.7 2433.3,170.0 2433.3,167.2 2433.3,165.4 2432.8,162.3 2433.8,160.6 2432.8,157.7 2433.5,155.4 2433.3,152.1 2433.2,150.3 2433.7,147.1 2433.6,145.2 2433.6,141.9 2433.4,139.8 2433.6,137.3 2433.1,135.2 2433.3,132.8 2433.3,130.1 2433.9,127.0 2433.9,124.5 2434.1,121.9 2433.9,119.8 2433.3,117.4 2433.7,114.9 2433.2,112.5 2433.5,110.6 2433.6,107.4 2433.4,105.6 2433.6,102.7 2434.2,99.9 2434.1,97.2 2433.4,94.5 2433.8,92.9 2433.5,89.9 2434.2,87.2 2433.5,85.0 2433.9,83.0 2434.4,79.7 2434.1,77.4 2433.4,74.9 2434.5,77.3 2434.2,80.3 2433.6,83.0 2433.6,84.8 2434.4,86.9 2434.0,89.6 2434.2,91.9 2433.8,94.7 2433.8,97.0 2433.9,100.0 2433.9,102.9 2434.3,104.7 2434.1,107.9 2433.9,110.3 2434.0,113.0 2434.4,115.1 2434.9,117.0 2434.0,120.2 2434.7,122.8 2434.3,125.0 2434.2,127.4 2434.4,130.1 2434.4,132.2 2434.9,134.5 2435.1,137.5 2434.4,139.5 2434.8,142.5 2435.1,144.8 2434.7,148.0 2434.6,150.6 2435.4,153.1 2435.5,154.7 2435.3,157.6 2434.6,160.6 2435.2,162.9 2435.1,164.5 2435.5,167.1 2434.8,170.1 2434.8,172.5 2435.4,174.5 2435.4,177.0 2435.2,180.2 2435.5,182.0 2434.9,185.6 2435.2,187.4 2435.2,190.2 2435.7,192.7 2435.3,195.1 2435.5,197.1 2436.0,200.6 2435.8,203.1 2435.5,205.4 2435.2,207.8 2435.8,210.5 2436.0,213.0 2435.4,215.3 2435.6,217.3 2435.5,220.4 2436.1,222.9 2436.0,224.6 2435.4,227.6 2435.5,229.8 2435.4,232.1 2436.1,234.7 2436.3,237.3 2436.4,239.8 2435.7,242.4 2436.0,245.0" fill="none" stroke="#ff0000" stroke-width="10.3" stroke-linejoin="round" stroke-linecap="round"/>
</g>
<g id="legend-keys">
<rect x="364.2" y="1290.1" width="172.8" height="14.8" fill="#0000ff"/>
<rect x="364.2" y="1403.1" width="172.8" height="14.8" fill="#ff0000"/>
</g>
<g id="arrows">
<polygon points="918.0,169.5 908.8000000000001,212.5 929.5,212.5" fill="#000"/><line x1="918.0" y1="210.5" x2="918.0" y2="338" stroke="#333" stroke-width="3.4"/><line x1="920.4" y1="336" x2="920.4" y2="500.2" stroke="#333" stroke-width="3.4"/>
<polygon points="966.0,136.9 954.7,178.6 977.4,178.6" fill="#000"/><line x1="966.0" y1="176.6" x2="966.0" y2="311.5" stroke="#333" stroke-width="3.4"/>
<polygon points="1971.9,331.5 1960.6,373.2 1984.1000000000001,373.2" fill="#000"/><line x1="1971.9" y1="371.2" x2="1971.9" y2="574.6" stroke="#333" stroke-width="3.4"/>
<polygon points="1784.9,630.5 1775.8,675.1 1796.3000000000002,675.1" fill="#000"/><line x1="1784.9" y1="673.1" x2="1784.9" y2="726.7" stroke="#333" stroke-width="3.4"/><line x1="1787.3" y1="724.7" x2="1787.3" y2="817.5" stroke="#333" stroke-width="3.4"/>
<polygon points="1857.0,678.4 1847.8,720.8 1868.4,720.8" fill="#000"/><line x1="1857.0" y1="718.8" x2="1857.0" y2="990.5" stroke="#333" stroke-width="3.4"/>
<polygon points="2339.1,996.8 2329.0,1038.6 2351.0,1038.6" fill="#000"/><line x1="2339.1" y1="1036.6" x2="2339.1" y2="1179.9" stroke="#333" stroke-width="3.4"/>
<polygon points="2020.6,448.6 2053.3,479.3 2036.4,490.2" fill="#000"/>
<line x1="2043.5" y1="482.8" x2="2095.8" y2="564.2" stroke="#333" stroke-width="3"/>
</g>
<g id="labels" fill="#000">
<g><g transform="matrix(0 -1.2756 1.3917 0 145.4755 1457.9804)"><text font-family='"Liberation Sans", Arial, Helvetica, sans-serif' font-weight="bold" font-size="100" stroke="#000" stroke-width="0.4503" stroke-linejoin="miter" xml:space="preserve">T</text></g><g transform="matrix(0 -1.3184 1.3298 0 146.217 1381.8686)"><text font-family='"Liberation Sans", Arial, Helvetica, sans-serif' font-weight="bold" font-size="100" stroke="#000" stroke-width="0.4532" stroke-linejoin="miter" xml:space="preserve">ransmittance </text></g><g transform="matrix(0 -1.2097 1.3176 0 145.3796 521.0243)"><text font-family='"Liberation Sans", Arial, Helvetica, sans-serif' font-weight="bold" font-size="100" stroke="#000" stroke-width="0.4753" stroke-linejoin="miter" xml:space="preserve">[</text></g><g transform="matrix(0 -1.3126 1.3417 0 146.2038 480.2834)"><text font-family='"Liberation Sans", Arial, Helvetica, sans-serif' font-weight="bold" font-size="100" stroke="#000" stroke-width="0.4521" stroke-linejoin="miter" xml:space="preserve">a.u.</text></g><g transform="matrix(0 -1.2276 1.3176 0 145.3796 252.6754)"><text font-family='"Liberation Sans", Arial, Helvetica, sans-serif' font-weight="bold" font-size="100" stroke="#000" stroke-width="0.4718" stroke-linejoin="miter" xml:space="preserve">]</text></g></g>
<g><g transform="matrix(0.7607 0 0 0.8242 574.0847 307.8351)"><text font-family='"Liberation Sans", Arial, Helvetica, sans-serif' font-weight="bold" font-size="100" stroke="#000" stroke-width="2.0207" stroke-linejoin="miter" xml:space="preserve">3365</text></g></g>
<g><g transform="matrix(0.7691 0 0 0.8257 832.1116 577.0391)"><text font-family='"Liberation Sans", Arial, Helvetica, sans-serif' font-weight="bold" font-size="100" stroke="#000" stroke-width="2.0078" stroke-linejoin="miter" xml:space="preserve">2959</text></g></g>
<g><g transform="matrix(0.7618 0 0 0.8125 935.3921 386.8306)"><text font-family='"Liberation Sans", Arial, Helvetica, sans-serif' font-weight="bold" font-size="100" stroke="#000" stroke-width="2.0336" stroke-linejoin="miter" xml:space="preserve">2844</text></g></g>
<g><g transform="matrix(0.7794 0 0 0.8035 1652.0845 886.1042)"><text font-family='"Liberation Sans", Arial, Helvetica, sans-serif' font-weight="bold" font-size="100" stroke="#000" stroke-width="2.0219" stroke-linejoin="miter" xml:space="preserve">1601</text><rect x="2" y="-12.5" width="20.4735" height="15" fill="#fff"/><rect x="38.0265" y="-12.5" width="17.3735" height="15" fill="#fff"/><rect x="168.86" y="-12.5" width="20.4735" height="15" fill="#fff"/><rect x="204.8865" y="-12.5" width="17.3735" height="15" fill="#fff"/></g></g>
<g><g transform="matrix(0.8689 0 0 0.8421 1759.7864 1068.7922)"><text font-family='"Liberation Sans", Arial, Helvetica, sans-serif' font-weight="bold" font-size="100" stroke="#000" stroke-width="1.8705" stroke-linejoin="miter" xml:space="preserve">1501</text><rect x="2" y="-12.5" width="20.5793" height="15" fill="#fff"/><rect x="37.9207" y="-12.5" width="17.4793" height="15" fill="#fff"/><rect x="168.86" y="-12.5" width="20.5793" height="15" fill="#fff"/><rect x="204.7807" y="-12.5" width="17.4793" height="15" fill="#fff"/></g></g>
<g><g transform="matrix(0.7578 0 0 0.8069 1890.2146 650.8862)"><text font-family='"Liberation Sans", Arial, Helvetica, sans-serif' font-weight="bold" font-size="100" stroke="#000" stroke-width="2.0461" stroke-linejoin="miter" xml:space="preserve">1313</text><rect x="2" y="-12.5" width="20.4444" height="15" fill="#fff"/><rect x="38.0556" y="-12.5" width="17.3444" height="15" fill="#fff"/><rect x="113.24" y="-12.5" width="20.4444" height="15" fill="#fff"/><rect x="149.2956" y="-12.5" width="17.3444" height="15" fill="#fff"/></g></g>
<g><g transform="matrix(0.7643 0 0 0.8008 2089.937 643.351)"><text font-family='"Liberation Sans", Arial, Helvetica, sans-serif' font-weight="bold" font-size="100" stroke="#000" stroke-width="2.0452" stroke-linejoin="miter" xml:space="preserve">1250</text><rect x="2" y="-12.5" width="20.4533" height="15" fill="#fff"/><rect x="38.0467" y="-12.5" width="17.3533" height="15" fill="#fff"/></g></g>
<g><g transform="matrix(0.7617 0 0 0.8173 2280.8221 1256.8655)"><text font-family='"Liberation Sans", Arial, Helvetica, sans-serif' font-weight="bold" font-size="100" stroke="#000" stroke-width="2.0279" stroke-linejoin="miter" xml:space="preserve">763</text></g></g>
<g><g transform="matrix(0.9481 0 0 0.9682 382.3814 1204.4824)"><text font-family='"Liberation Sans", Arial, Helvetica, sans-serif' font-weight="bold" font-size="100" stroke="#fff" stroke-width="1.2525" stroke-linejoin="miter" xml:space="preserve">PANI </text></g><g transform="matrix(0.9181 0 0 0.9207 626.4463 1204.4567)"><text font-family='"Liberation Sans", Arial, Helvetica, sans-serif' font-weight="bold" font-size="100" stroke="#fff" stroke-width="1.3052" stroke-linejoin="miter" xml:space="preserve">film</text></g></g>
<g><g transform="matrix(0.9222 0 0 0.8806 557.5427 1320.705)"><text font-family='"Liberation Sans", Arial, Helvetica, sans-serif' font-weight="bold" font-size="100" stroke="#fff" stroke-width="1.3316" stroke-linejoin="miter" xml:space="preserve">without doping</text></g></g>
<g><g transform="matrix(0.9281 0 0 0.9236 556.5282 1437.7691)"><text font-family='"Liberation Sans", Arial, Helvetica, sans-serif' font-weight="bold" font-size="100" stroke="#fff" stroke-width="1.2961" stroke-linejoin="miter" xml:space="preserve">with </text></g><g transform="matrix(0.9437 0 0 0.9306 770.8963 1438.2674)"><text font-family='"Liberation Sans", Arial, Helvetica, sans-serif' font-weight="bold" font-style="italic" font-size="100" stroke="#fff" stroke-width="1.2806" stroke-linejoin="miter" xml:space="preserve">in-situ </text></g><g transform="matrix(1.0608 0 0 0.98 1064.2993 1438.2383)"><text font-family='"Liberation Sans", Arial, Helvetica, sans-serif' font-weight="bold" font-size="100" stroke="#fff" stroke-width="1.1769" stroke-linejoin="miter" xml:space="preserve">I</text></g><g transform="matrix(0.5573 0 0 0.5736 1093.8201 1476.5645)"><text font-family='"Liberation Sans", Arial, Helvetica, sans-serif' font-weight="bold" font-size="100" xml:space="preserve">2</text></g><g transform="matrix(0.9283 0 0 0.9033 1123.0858 1436.2383)"><text font-family='"Liberation Sans", Arial, Helvetica, sans-serif' font-weight="bold" font-size="100" stroke="#fff" stroke-width="1.3104" stroke-linejoin="miter" xml:space="preserve"> doping</text></g></g>
<g><g transform="matrix(0.9975 0 0 1.0357 116.5051 1800.4821)"><text font-family='"Liberation Sans", Arial, Helvetica, sans-serif' font-weight="bold" font-size="100" stroke="#fff" stroke-width="0.7871" stroke-linejoin="miter" xml:space="preserve">4000</text></g></g>
<g><g transform="matrix(1.0005 0 0 1.032 442.9985 1800.226)"><text font-family='"Liberation Sans", Arial, Helvetica, sans-serif' font-weight="bold" font-size="100" stroke="#fff" stroke-width="0.7873" stroke-linejoin="miter" xml:space="preserve">3500</text></g></g>
<g><g transform="matrix(0.9963 0 0 1.032 768.51 1800.226)"><text font-family='"Liberation Sans", Arial, Helvetica, sans-serif' font-weight="bold" font-size="100" stroke="#fff" stroke-width="0.789" stroke-linejoin="miter" xml:space="preserve">3000</text></g></g>
<g><g transform="matrix(1.007 0 0 1.0357 1090.7233 1800.4821)"><text font-family='"Liberation Sans", Arial, Helvetica, sans-serif' font-weight="bold" font-size="100" stroke="#fff" stroke-width="0.7833" stroke-linejoin="miter" xml:space="preserve">2500</text></g></g>
<g><g transform="matrix(1.0002 0 0 1.0357 1417.2491 1800.4821)"><text font-family='"Liberation Sans", Arial, Helvetica, sans-serif' font-weight="bold" font-size="100" stroke="#fff" stroke-width="0.786" stroke-linejoin="miter" xml:space="preserve">2000</text></g></g>
<g><g transform="matrix(1.0017 0 0 1.0357 1740.9878 1800.4821)"><text font-family='"Liberation Sans", Arial, Helvetica, sans-serif' font-weight="bold" font-size="100" stroke="#fff" stroke-width="0.7854" stroke-linejoin="miter" xml:space="preserve">1500</text><rect x="2" y="-12.5" width="21.8993" height="15" fill="#fff"/><rect x="36.6007" y="-12.5" width="18.7993" height="15" fill="#fff"/></g></g>
<g><g transform="matrix(1.0005 0 0 1.0357 2067.2462 1800.4821)"><text font-family='"Liberation Sans", Arial, Helvetica, sans-serif' font-weight="bold" font-size="100" stroke="#fff" stroke-width="0.7859" stroke-linejoin="miter" xml:space="preserve">1000</text><rect x="2" y="-12.5" width="21.8998" height="15" fill="#fff"/><rect x="36.6002" y="-12.5" width="18.7998" height="15" fill="#fff"/></g></g>
<g><g transform="matrix(1.2522 0 0 1.2813 801.8131 1945.9158)"><text font-family='"Liberation Sans", Arial, Helvetica, sans-serif' font-weight="bold" font-size="100" stroke="#000" stroke-width="0.4737" stroke-linejoin="miter" xml:space="preserve">W</text></g><g transform="matrix(1.275 0 0 1.2135 925.2 1945.7227)"><text x="-5.7034 51.1912 103.3652 160.6618 221.7426 282.7083 372.799 432.777 490.6275" font-family='"Liberation Sans", Arial, Helvetica, sans-serif' font-weight="bold" font-size="100" stroke="#000" stroke-width="0.4824" stroke-linejoin="miter" xml:space="preserve">avenumber </text></g><g transform="matrix(1.1799 0 0 1.336 1639.1585 1955.0152)"><text font-family='"Liberation Serif", "Times New Roman", serif' font-weight="bold" font-size="100" xml:space="preserve">[</text></g><g transform="matrix(1.2703 0 0 1.2325 1677.8032 1945.1986)"><text font-family='"Liberation Sans", Arial, Helvetica, sans-serif' font-weight="bold" font-size="100" stroke="#000" stroke-width="0.4795" stroke-linejoin="miter" xml:space="preserve">cm</text></g><g transform="matrix(0.8538 0 0 0.7313 1859.9877 1881.0329)"><text font-family='"Liberation Serif", "Times New Roman", serif' font-weight="normal" font-size="100" xml:space="preserve">−</text></g><g transform="matrix(0.9075 0 0 0.8247 1902.3787 1875.2417)"><text font-family='"Liberation Sans", Arial, Helvetica, sans-serif' font-weight="bold" font-size="100" xml:space="preserve">1</text><rect x="2" y="-12.5" width="21.5" height="15" fill="#fff"/><rect x="37" y="-12.5" width="18.4" height="15" fill="#fff"/></g><g transform="matrix(1.2203 0 0 1.336 1943.9352 1955.0152)"><text font-family='"Liberation Serif", "Times New Roman", serif' font-weight="bold" font-size="100" xml:space="preserve">]</text></g></g>
</g>
</svg>
</body>
</html>
